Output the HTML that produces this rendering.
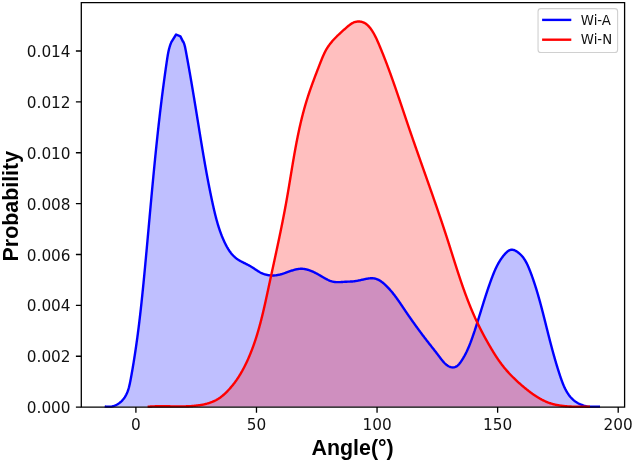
<!DOCTYPE html>
<html><head><meta charset="utf-8"><style>
html,body{margin:0;padding:0;background:#fff;}
body{width:633px;height:461px;overflow:hidden;}
svg{display:block;filter:blur(0.35px);}
</style></head><body>
<svg width="633" height="461" viewBox="0 0 633 461">
<rect width="633" height="461" fill="#fff"/>
<path d="M104.70,406.34 L105.45,406.50 L106.20,406.60 L106.94,406.60 L107.67,406.60 L108.40,406.60 L109.12,406.60 L109.84,406.60 L110.55,406.60 L111.25,406.58 L111.95,406.44 L112.64,406.28 L113.31,406.10 L113.98,405.88 L114.64,405.64 L115.29,405.38 L115.93,405.09 L116.55,404.78 L117.17,404.44 L117.77,404.09 L118.36,403.71 L118.94,403.31 L119.50,402.90 L120.05,402.47 L120.58,402.02 L121.10,401.56 L121.61,401.08 L122.10,400.58 L122.57,400.08 L123.02,399.56 L123.46,399.03 L123.88,398.49 L124.28,397.93 L124.67,397.37 L125.03,396.80 L125.39,396.22 L125.72,395.64 L126.04,395.04 L126.35,394.44 L126.64,393.82 L126.92,393.21 L127.19,392.58 L127.45,391.95 L127.69,391.31 L127.92,390.66 L128.14,390.01 L128.35,389.36 L128.56,388.69 L128.75,388.03 L128.94,387.36 L129.11,386.68 L129.28,386.01 L129.45,385.32 L129.61,384.64 L129.76,383.95 L129.91,383.26 L130.05,382.57 L130.19,381.88 L130.32,381.18 L130.46,380.49 L130.59,379.79 L130.72,379.10 L130.85,378.40 L130.98,377.70 L131.11,377.00 L131.23,376.31 L131.36,375.61 L131.49,374.91 L131.61,374.22 L131.74,373.52 L131.86,372.82 L131.98,372.13 L132.11,371.43 L132.23,370.73 L132.35,370.04 L132.47,369.34 L132.59,368.65 L132.71,367.95 L132.83,367.25 L132.94,366.56 L133.06,365.86 L133.18,365.16 L133.29,364.47 L133.41,363.77 L133.52,363.08 L133.64,362.38 L133.75,361.68 L133.86,360.99 L133.97,360.29 L134.08,359.60 L134.20,358.90 L134.31,358.20 L134.41,357.51 L134.52,356.81 L134.63,356.12 L134.74,355.42 L134.85,354.72 L134.95,354.03 L135.06,353.33 L135.16,352.64 L135.27,351.94 L135.37,351.25 L135.48,350.55 L135.58,349.85 L135.68,349.16 L135.79,348.46 L135.89,347.77 L135.99,347.07 L136.09,346.38 L136.19,345.68 L136.29,344.99 L136.39,344.29 L136.48,343.60 L136.58,342.90 L136.68,342.20 L136.78,341.51 L136.87,340.81 L136.97,340.12 L137.06,339.42 L137.16,338.73 L137.25,338.03 L137.35,337.34 L137.44,336.64 L137.53,335.95 L137.62,335.25 L137.72,334.56 L137.81,333.86 L137.90,333.17 L137.99,332.47 L138.08,331.78 L138.17,331.08 L138.26,330.39 L138.35,329.69 L138.44,329.00 L138.52,328.30 L138.61,327.60 L138.70,326.91 L138.78,326.21 L138.87,325.52 L138.96,324.82 L139.04,324.13 L139.13,323.43 L139.21,322.74 L139.29,322.04 L139.38,321.35 L139.46,320.65 L139.54,319.96 L139.63,319.26 L139.71,318.57 L139.79,317.87 L139.87,317.18 L139.95,316.48 L140.03,315.79 L140.12,315.09 L140.20,314.40 L140.27,313.70 L140.35,313.01 L140.43,312.31 L140.51,311.62 L140.59,310.92 L140.67,310.23 L140.75,309.53 L140.82,308.84 L140.90,308.14 L140.98,307.45 L141.05,306.75 L141.13,306.06 L141.21,305.36 L141.28,304.67 L141.36,303.97 L141.43,303.28 L141.51,302.58 L141.58,301.89 L141.65,301.19 L141.73,300.49 L141.80,299.80 L141.87,299.10 L141.95,298.41 L142.02,297.71 L142.09,297.02 L142.17,296.32 L142.24,295.63 L142.31,294.93 L142.38,294.24 L142.45,293.54 L142.52,292.85 L142.59,292.15 L142.66,291.46 L142.74,290.76 L142.81,290.06 L142.88,289.37 L142.95,288.67 L143.02,287.98 L143.08,287.28 L143.15,286.59 L143.22,285.89 L143.29,285.20 L143.36,284.50 L143.43,283.80 L143.50,283.11 L143.57,282.41 L143.63,281.72 L143.70,281.02 L143.77,280.32 L143.84,279.63 L143.90,278.93 L143.97,278.24 L144.04,277.54 L144.11,276.85 L144.17,276.15 L144.24,275.45 L144.31,274.76 L144.37,274.06 L144.44,273.37 L144.51,272.67 L144.57,271.97 L144.64,271.28 L144.70,270.58 L144.77,269.88 L144.84,269.19 L144.90,268.49 L144.97,267.79 L145.03,267.10 L145.10,266.40 L145.16,265.71 L145.23,265.01 L145.29,264.31 L145.36,263.62 L145.42,262.92 L145.49,262.22 L145.55,261.53 L145.62,260.83 L145.68,260.13 L145.75,259.44 L145.81,258.74 L145.88,258.04 L145.94,257.35 L146.01,256.65 L146.07,255.95 L146.14,255.25 L146.20,254.56 L146.26,253.86 L146.33,253.16 L146.39,252.47 L146.46,251.77 L146.52,251.07 L146.58,250.37 L146.65,249.68 L146.71,248.98 L146.78,248.28 L146.84,247.59 L146.90,246.89 L146.97,246.19 L147.03,245.49 L147.09,244.80 L147.16,244.10 L147.22,243.40 L147.28,242.70 L147.35,242.01 L147.41,241.31 L147.47,240.61 L147.54,239.91 L147.60,239.22 L147.66,238.52 L147.73,237.82 L147.79,237.12 L147.85,236.43 L147.92,235.73 L147.98,235.03 L148.04,234.33 L148.11,233.64 L148.17,232.94 L148.23,232.24 L148.30,231.54 L148.36,230.85 L148.42,230.15 L148.49,229.45 L148.55,228.75 L148.61,228.05 L148.68,227.36 L148.74,226.66 L148.80,225.96 L148.86,225.26 L148.93,224.56 L148.99,223.87 L149.05,223.17 L149.12,222.47 L149.18,221.77 L149.24,221.08 L149.31,220.38 L149.37,219.68 L149.43,218.98 L149.50,218.28 L149.56,217.59 L149.62,216.89 L149.68,216.19 L149.75,215.49 L149.81,214.79 L149.87,214.09 L149.94,213.40 L150.00,212.70 L150.06,212.00 L150.13,211.30 L150.19,210.60 L150.25,209.91 L150.32,209.21 L150.38,208.51 L150.45,207.81 L150.51,207.11 L150.57,206.42 L150.64,205.72 L150.70,205.02 L150.76,204.32 L150.83,203.62 L150.89,202.92 L150.95,202.23 L151.02,201.53 L151.08,200.83 L151.15,200.13 L151.21,199.43 L151.27,198.73 L151.34,198.04 L151.40,197.34 L151.47,196.64 L151.53,195.94 L151.60,195.24 L151.66,194.55 L151.73,193.85 L151.79,193.15 L151.85,192.45 L151.92,191.75 L151.98,191.05 L152.05,190.36 L152.11,189.66 L152.18,188.96 L152.24,188.26 L152.31,187.56 L152.37,186.86 L152.44,186.17 L152.51,185.47 L152.57,184.77 L152.64,184.07 L152.70,183.37 L152.77,182.67 L152.83,181.98 L152.90,181.28 L152.97,180.58 L153.03,179.88 L153.10,179.18 L153.16,178.49 L153.23,177.79 L153.30,177.09 L153.36,176.39 L153.43,175.69 L153.50,174.99 L153.56,174.30 L153.63,173.60 L153.70,172.90 L153.77,172.20 L153.83,171.50 L153.90,170.81 L153.97,170.11 L154.04,169.41 L154.10,168.71 L154.17,168.01 L154.24,167.31 L154.31,166.62 L154.38,165.92 L154.44,165.22 L154.51,164.52 L154.58,163.82 L154.65,163.13 L154.72,162.43 L154.79,161.73 L154.86,161.03 L154.93,160.33 L155.00,159.64 L155.06,158.94 L155.13,158.24 L155.20,157.54 L155.27,156.84 L155.34,156.15 L155.41,155.45 L155.48,154.75 L155.56,154.05 L155.63,153.36 L155.70,152.66 L155.77,151.96 L155.84,151.26 L155.91,150.56 L155.98,149.87 L156.05,149.17 L156.12,148.47 L156.20,147.77 L156.27,147.08 L156.34,146.38 L156.41,145.68 L156.49,144.98 L156.56,144.29 L156.63,143.59 L156.70,142.89 L156.78,142.19 L156.85,141.50 L156.92,140.80 L157.00,140.10 L157.07,139.40 L157.15,138.71 L157.22,138.01 L157.29,137.31 L157.37,136.61 L157.44,135.92 L157.52,135.22 L157.59,134.52 L157.67,133.82 L157.75,133.13 L157.82,132.43 L157.90,131.73 L157.97,131.04 L158.05,130.34 L158.13,129.64 L158.20,128.94 L158.28,128.25 L158.36,127.55 L158.43,126.85 L158.51,126.16 L158.59,125.46 L158.67,124.76 L158.74,124.07 L158.82,123.37 L158.90,122.67 L158.98,121.97 L159.06,121.28 L159.14,120.58 L159.22,119.88 L159.30,119.19 L159.38,118.49 L159.46,117.79 L159.54,117.10 L159.62,116.40 L159.70,115.71 L159.78,115.01 L159.86,114.31 L159.94,113.62 L160.02,112.92 L160.10,112.22 L160.19,111.53 L160.27,110.83 L160.35,110.13 L160.43,109.44 L160.52,108.74 L160.60,108.05 L160.68,107.35 L160.77,106.65 L160.85,105.96 L160.94,105.26 L161.02,104.57 L161.10,103.87 L161.19,103.17 L161.28,102.48 L161.36,101.78 L161.45,101.09 L161.53,100.39 L161.62,99.70 L161.70,99.00 L161.79,98.30 L161.88,97.61 L161.97,96.91 L162.05,96.22 L162.14,95.52 L162.23,94.83 L162.32,94.13 L162.41,93.44 L162.49,92.74 L162.58,92.05 L162.67,91.35 L162.76,90.66 L162.85,89.96 L162.94,89.27 L163.03,88.57 L163.12,87.88 L163.21,87.18 L163.31,86.49 L163.40,85.79 L163.49,85.10 L163.58,84.40 L163.67,83.71 L163.77,83.01 L163.86,82.32 L163.95,81.62 L164.05,80.93 L164.14,80.23 L164.23,79.54 L164.33,78.85 L164.42,78.15 L164.52,77.46 L164.61,76.76 L164.71,76.07 L164.81,75.37 L164.90,74.68 L165.00,73.99 L165.10,73.29 L165.19,72.60 L165.29,71.90 L165.39,71.21 L165.49,70.52 L165.59,69.82 L165.68,69.13 L165.78,68.44 L165.88,67.74 L165.98,67.05 L166.08,66.36 L166.18,65.66 L166.28,64.97 L166.39,64.28 L166.49,63.58 L166.59,62.89 L166.69,62.20 L166.79,61.50 L166.90,60.81 L167.00,60.12 L167.10,59.42 L167.21,58.73 L167.31,58.04 L167.42,57.35 L167.53,56.65 L167.64,55.96 L167.76,55.27 L167.88,54.58 L168.00,53.89 L168.13,53.20 L168.26,52.51 L168.41,51.82 L168.55,51.13 L168.71,50.44 L168.87,49.75 L169.04,49.07 L169.22,48.38 L169.41,47.70 L169.60,47.01 L169.81,46.33 L170.03,45.65 L170.26,44.96 L170.50,44.28 L170.76,43.60 L171.03,42.92 L171.20,42.30 L176.10,34.50 L180.40,36.40 L183.00,41.60 L183.22,41.52 L183.51,42.15 L183.78,42.80 L184.02,43.45 L184.25,44.12 L184.46,44.80 L184.65,45.48 L184.83,46.17 L185.00,46.86 L185.15,47.56 L185.30,48.27 L185.44,48.98 L185.58,49.69 L185.71,50.39 L185.85,51.10 L185.98,51.81 L186.11,52.52 L186.25,53.23 L186.38,53.94 L186.51,54.64 L186.64,55.35 L186.77,56.05 L186.90,56.76 L187.03,57.46 L187.16,58.17 L187.29,58.87 L187.42,59.57 L187.54,60.27 L187.67,60.98 L187.80,61.68 L187.92,62.38 L188.05,63.08 L188.18,63.78 L188.30,64.48 L188.43,65.17 L188.55,65.87 L188.68,66.57 L188.80,67.27 L188.93,67.97 L189.05,68.66 L189.17,69.36 L189.30,70.05 L189.42,70.75 L189.54,71.44 L189.66,72.14 L189.78,72.83 L189.91,73.53 L190.03,74.22 L190.15,74.91 L190.27,75.61 L190.39,76.30 L190.51,76.99 L190.63,77.68 L190.75,78.38 L190.87,79.07 L190.98,79.76 L191.10,80.45 L191.22,81.14 L191.34,81.83 L191.46,82.52 L191.57,83.21 L191.69,83.90 L191.81,84.59 L191.92,85.28 L192.04,85.97 L192.16,86.65 L192.27,87.34 L192.39,88.03 L192.51,88.72 L192.62,89.41 L192.74,90.09 L192.85,90.78 L192.97,91.47 L193.08,92.16 L193.20,92.84 L193.31,93.53 L193.42,94.22 L193.54,94.90 L193.65,95.59 L193.77,96.28 L193.88,96.96 L193.99,97.65 L194.11,98.33 L194.22,99.02 L194.33,99.71 L194.45,100.39 L194.56,101.08 L194.67,101.76 L194.78,102.45 L194.90,103.14 L195.01,103.82 L195.12,104.51 L195.23,105.19 L195.35,105.88 L195.46,106.56 L195.57,107.25 L195.68,107.94 L195.79,108.62 L195.91,109.31 L196.02,109.99 L196.13,110.68 L196.24,111.36 L196.35,112.05 L196.46,112.74 L196.57,113.42 L196.69,114.11 L196.80,114.80 L196.91,115.48 L197.02,116.17 L197.13,116.86 L197.24,117.54 L197.35,118.23 L197.47,118.92 L197.58,119.61 L197.69,120.29 L197.80,120.98 L197.91,121.67 L198.02,122.36 L198.13,123.04 L198.25,123.73 L198.36,124.42 L198.47,125.11 L198.58,125.80 L198.69,126.49 L198.80,127.18 L198.91,127.87 L199.03,128.56 L199.14,129.25 L199.25,129.94 L199.36,130.63 L199.47,131.32 L199.59,132.01 L199.70,132.70 L199.81,133.39 L199.92,134.09 L200.04,134.78 L200.15,135.47 L200.26,136.16 L200.37,136.85 L200.49,137.55 L200.60,138.24 L200.71,138.93 L200.83,139.62 L200.94,140.32 L201.06,141.01 L201.17,141.70 L201.28,142.40 L201.40,143.09 L201.51,143.78 L201.63,144.48 L201.74,145.17 L201.86,145.86 L201.97,146.56 L202.09,147.25 L202.20,147.94 L202.32,148.64 L202.43,149.33 L202.55,150.02 L202.67,150.72 L202.78,151.41 L202.90,152.11 L203.02,152.80 L203.14,153.49 L203.25,154.19 L203.37,154.88 L203.49,155.58 L203.61,156.27 L203.73,156.96 L203.85,157.66 L203.97,158.35 L204.09,159.05 L204.21,159.74 L204.33,160.43 L204.45,161.13 L204.57,161.82 L204.69,162.52 L204.81,163.21 L204.93,163.90 L205.05,164.60 L205.18,165.29 L205.30,165.98 L205.42,166.68 L205.55,167.37 L205.67,168.06 L205.79,168.76 L205.92,169.45 L206.04,170.14 L206.17,170.84 L206.29,171.53 L206.42,172.22 L206.55,172.91 L206.67,173.61 L206.80,174.30 L206.93,174.99 L207.06,175.68 L207.19,176.38 L207.31,177.07 L207.44,177.76 L207.57,178.45 L207.70,179.14 L207.83,179.83 L207.97,180.52 L208.10,181.21 L208.23,181.90 L208.36,182.60 L208.49,183.29 L208.63,183.98 L208.76,184.66 L208.90,185.35 L209.03,186.04 L209.17,186.73 L209.30,187.42 L209.44,188.11 L209.58,188.80 L209.71,189.49 L209.85,190.17 L209.99,190.86 L210.13,191.55 L210.27,192.24 L210.41,192.92 L210.55,193.61 L210.69,194.30 L210.83,194.98 L210.97,195.67 L211.12,196.35 L211.26,197.04 L211.40,197.72 L211.55,198.41 L211.69,199.09 L211.84,199.78 L211.98,200.46 L212.13,201.14 L212.28,201.82 L212.43,202.51 L212.57,203.19 L212.72,203.87 L212.87,204.55 L213.02,205.23 L213.18,205.91 L213.33,206.59 L213.48,207.27 L213.63,207.95 L213.79,208.63 L213.94,209.31 L214.10,209.99 L214.26,210.67 L214.42,211.35 L214.58,212.02 L214.74,212.70 L214.90,213.38 L215.07,214.05 L215.23,214.73 L215.40,215.40 L215.57,216.08 L215.74,216.75 L215.92,217.42 L216.09,218.10 L216.27,218.77 L216.45,219.44 L216.64,220.11 L216.82,220.78 L217.01,221.45 L217.20,222.12 L217.39,222.79 L217.58,223.46 L217.78,224.12 L217.98,224.79 L218.18,225.46 L218.39,226.12 L218.60,226.79 L218.81,227.45 L219.03,228.12 L219.25,228.78 L219.47,229.44 L219.69,230.10 L219.92,230.77 L220.15,231.43 L220.39,232.09 L220.63,232.75 L220.87,233.40 L221.12,234.06 L221.37,234.72 L221.63,235.37 L221.88,236.03 L222.15,236.68 L222.42,237.34 L222.69,237.99 L222.96,238.64 L223.24,239.30 L223.53,239.95 L223.82,240.60 L224.11,241.25 L224.41,241.89 L224.72,242.54 L225.03,243.19 L225.34,243.83 L225.66,244.47 L225.99,245.11 L226.32,245.74 L226.66,246.37 L227.00,246.99 L227.36,247.61 L227.71,248.23 L228.08,248.83 L228.45,249.44 L228.84,250.03 L229.22,250.62 L229.62,251.20 L230.03,251.77 L230.44,252.33 L230.86,252.89 L231.29,253.43 L231.73,253.97 L232.18,254.49 L232.64,255.00 L233.11,255.50 L233.59,255.99 L234.08,256.47 L234.58,256.93 L235.09,257.39 L235.61,257.82 L236.14,258.25 L236.68,258.66 L237.24,259.05 L237.80,259.44 L238.37,259.81 L238.96,260.17 L239.54,260.52 L240.14,260.86 L240.75,261.20 L241.35,261.53 L241.97,261.85 L242.59,262.17 L243.21,262.49 L243.84,262.80 L244.47,263.12 L245.10,263.43 L245.73,263.74 L246.37,264.06 L247.00,264.38 L247.63,264.70 L248.26,265.03 L248.89,265.37 L249.52,265.71 L250.14,266.06 L250.76,266.42 L251.38,266.79 L251.99,267.17 L252.60,267.56 L253.20,267.95 L253.80,268.35 L254.40,268.75 L255.00,269.15 L255.60,269.55 L256.19,269.95 L256.79,270.34 L257.39,270.73 L257.98,271.11 L258.59,271.48 L259.19,271.84 L259.80,272.19 L260.41,272.52 L261.02,272.83 L261.65,273.13 L262.27,273.41 L262.90,273.67 L263.54,273.91 L264.18,274.14 L264.82,274.34 L265.47,274.53 L266.12,274.70 L266.78,274.86 L267.44,274.99 L268.10,275.11 L268.77,275.21 L269.43,275.30 L270.11,275.37 L270.78,275.42 L271.46,275.45 L272.14,275.47 L272.82,275.48 L273.50,275.46 L274.19,275.43 L274.87,275.39 L275.56,275.32 L276.25,275.25 L276.94,275.15 L277.63,275.04 L278.32,274.92 L279.01,274.78 L279.70,274.63 L280.39,274.46 L281.09,274.27 L281.78,274.08 L282.47,273.87 L283.16,273.65 L283.85,273.43 L284.54,273.19 L285.23,272.96 L285.92,272.71 L286.61,272.46 L287.30,272.21 L287.99,271.96 L288.68,271.71 L289.37,271.46 L290.05,271.22 L290.74,270.98 L291.43,270.74 L292.11,270.51 L292.80,270.29 L293.48,270.08 L294.16,269.88 L294.85,269.70 L295.53,269.52 L296.21,269.36 L296.89,269.22 L297.57,269.09 L298.25,268.99 L298.92,268.90 L299.60,268.84 L300.27,268.79 L300.95,268.77 L301.62,268.78 L302.29,268.80 L302.96,268.85 L303.63,268.92 L304.30,269.01 L304.96,269.11 L305.63,269.24 L306.29,269.38 L306.95,269.54 L307.61,269.72 L308.27,269.91 L308.92,270.12 L309.58,270.35 L310.23,270.58 L310.88,270.83 L311.52,271.09 L312.17,271.36 L312.81,271.65 L313.45,271.94 L314.09,272.24 L314.73,272.55 L315.36,272.87 L315.99,273.20 L316.62,273.53 L317.25,273.87 L317.87,274.22 L318.49,274.57 L319.11,274.92 L319.73,275.27 L320.34,275.63 L320.95,275.99 L321.55,276.35 L322.16,276.71 L322.76,277.07 L323.37,277.42 L323.97,277.77 L324.58,278.11 L325.18,278.45 L325.79,278.78 L326.39,279.10 L327.01,279.42 L327.62,279.72 L328.24,280.01 L328.86,280.28 L329.48,280.54 L330.11,280.79 L330.75,281.02 L331.39,281.23 L332.04,281.42 L332.70,281.59 L333.37,281.74 L334.04,281.87 L334.72,281.97 L335.41,282.05 L336.11,282.11 L336.82,282.15 L337.53,282.17 L338.25,282.17 L338.98,282.16 L339.70,282.13 L340.43,282.10 L341.16,282.06 L341.90,282.01 L342.63,281.96 L343.36,281.91 L344.08,281.86 L344.81,281.81 L345.52,281.77 L346.24,281.73 L346.95,281.70 L347.65,281.67 L348.35,281.64 L349.05,281.62 L349.74,281.59 L350.43,281.55 L351.12,281.52 L351.80,281.48 L352.49,281.43 L353.17,281.37 L353.85,281.31 L354.53,281.23 L355.20,281.14 L355.88,281.04 L356.56,280.93 L357.23,280.81 L357.91,280.68 L358.59,280.54 L359.27,280.39 L359.95,280.25 L360.63,280.09 L361.32,279.94 L362.01,279.78 L362.70,279.62 L363.39,279.47 L364.09,279.31 L364.79,279.16 L365.50,279.01 L366.21,278.88 L366.93,278.75 L367.65,278.63 L368.36,278.52 L369.08,278.43 L369.80,278.36 L370.51,278.30 L371.22,278.27 L371.92,278.26 L372.62,278.28 L373.32,278.32 L374.00,278.40 L374.68,278.50 L375.34,278.65 L376.00,278.82 L376.64,279.03 L377.28,279.27 L377.90,279.55 L378.52,279.84 L379.13,280.17 L379.72,280.52 L380.31,280.89 L380.89,281.27 L381.46,281.68 L382.03,282.11 L382.58,282.54 L383.13,283.00 L383.67,283.46 L384.20,283.93 L384.73,284.40 L385.25,284.88 L385.77,285.37 L386.27,285.86 L386.78,286.36 L387.27,286.85 L387.76,287.36 L388.25,287.86 L388.73,288.38 L389.20,288.89 L389.67,289.41 L390.14,289.93 L390.60,290.46 L391.05,290.98 L391.50,291.52 L391.95,292.05 L392.39,292.59 L392.83,293.13 L393.27,293.67 L393.70,294.22 L394.13,294.77 L394.55,295.32 L394.97,295.88 L395.39,296.43 L395.80,296.99 L396.22,297.55 L396.63,298.12 L397.04,298.68 L397.44,299.25 L397.84,299.82 L398.25,300.39 L398.65,300.96 L399.04,301.53 L399.44,302.11 L399.84,302.69 L400.23,303.26 L400.62,303.84 L401.01,304.42 L401.41,305.00 L401.80,305.58 L402.19,306.16 L402.58,306.74 L402.97,307.33 L403.36,307.91 L403.75,308.49 L404.14,309.08 L404.54,309.66 L404.93,310.24 L405.32,310.83 L405.72,311.41 L406.11,311.99 L406.51,312.57 L406.91,313.16 L407.30,313.74 L407.70,314.32 L408.10,314.90 L408.50,315.48 L408.90,316.06 L409.31,316.64 L409.71,317.22 L410.11,317.80 L410.52,318.38 L410.92,318.96 L411.33,319.54 L411.73,320.12 L412.14,320.69 L412.55,321.27 L412.96,321.85 L413.37,322.42 L413.78,323.00 L414.19,323.57 L414.60,324.15 L415.01,324.72 L415.42,325.29 L415.83,325.86 L416.25,326.43 L416.66,327.01 L417.08,327.58 L417.49,328.14 L417.91,328.71 L418.32,329.28 L418.74,329.85 L419.15,330.41 L419.57,330.98 L419.99,331.54 L420.41,332.10 L420.82,332.67 L421.24,333.23 L421.66,333.79 L422.08,334.35 L422.50,334.91 L422.92,335.46 L423.34,336.02 L423.76,336.58 L424.18,337.13 L424.60,337.68 L425.02,338.24 L425.45,338.79 L425.87,339.34 L426.29,339.89 L426.71,340.43 L427.13,340.98 L427.56,341.53 L427.98,342.07 L428.40,342.61 L428.82,343.15 L429.25,343.69 L429.67,344.23 L430.09,344.77 L430.51,345.31 L430.94,345.84 L431.36,346.38 L431.78,346.91 L432.21,347.45 L432.63,347.98 L433.06,348.52 L433.48,349.06 L433.91,349.60 L434.34,350.14 L434.77,350.69 L435.20,351.24 L435.63,351.79 L436.06,352.34 L436.49,352.90 L436.93,353.47 L437.36,354.04 L437.80,354.61 L438.24,355.19 L438.68,355.78 L439.12,356.37 L439.57,356.96 L440.01,357.56 L440.47,358.16 L440.92,358.76 L441.38,359.36 L441.85,359.95 L442.32,360.53 L442.79,361.10 L443.28,361.66 L443.77,362.21 L444.26,362.74 L444.77,363.26 L445.29,363.75 L445.81,364.23 L446.34,364.68 L446.89,365.10 L447.45,365.50 L448.01,365.87 L448.59,366.21 L449.19,366.51 L449.79,366.78 L450.41,367.00 L451.03,367.19 L451.66,367.32 L452.29,367.41 L452.92,367.43 L453.55,367.40 L454.17,367.32 L454.77,367.17 L455.37,366.97 L455.94,366.72 L456.50,366.41 L457.04,366.04 L457.56,365.64 L458.06,365.19 L458.55,364.70 L459.02,364.18 L459.48,363.64 L459.92,363.07 L460.36,362.48 L460.78,361.88 L461.19,361.27 L461.60,360.66 L461.99,360.05 L462.38,359.43 L462.76,358.81 L463.14,358.20 L463.50,357.58 L463.86,356.95 L464.22,356.33 L464.56,355.70 L464.90,355.08 L465.24,354.45 L465.57,353.82 L465.89,353.19 L466.20,352.55 L466.52,351.92 L466.82,351.28 L467.12,350.65 L467.42,350.01 L467.71,349.37 L467.99,348.73 L468.27,348.09 L468.55,347.45 L468.82,346.80 L469.09,346.16 L469.35,345.51 L469.61,344.87 L469.87,344.22 L470.12,343.57 L470.38,342.92 L470.62,342.27 L470.87,341.62 L471.11,340.97 L471.35,340.31 L471.59,339.66 L471.82,339.00 L472.06,338.35 L472.29,337.69 L472.52,337.04 L472.75,336.38 L472.97,335.72 L473.20,335.06 L473.42,334.40 L473.65,333.74 L473.87,333.08 L474.09,332.42 L474.31,331.76 L474.54,331.10 L474.75,330.44 L474.97,329.78 L475.19,329.11 L475.41,328.45 L475.62,327.79 L475.84,327.12 L476.05,326.46 L476.27,325.79 L476.48,325.13 L476.70,324.46 L476.91,323.79 L477.12,323.13 L477.33,322.46 L477.54,321.80 L477.75,321.13 L477.96,320.46 L478.17,319.79 L478.38,319.13 L478.59,318.46 L478.80,317.79 L479.01,317.12 L479.22,316.45 L479.42,315.78 L479.63,315.11 L479.84,314.45 L480.05,313.78 L480.25,313.11 L480.46,312.44 L480.67,311.77 L480.88,311.10 L481.08,310.43 L481.29,309.76 L481.50,309.09 L481.71,308.42 L481.91,307.75 L482.12,307.08 L482.33,306.41 L482.54,305.74 L482.75,305.07 L482.95,304.41 L483.16,303.74 L483.37,303.07 L483.58,302.40 L483.79,301.73 L484.00,301.06 L484.21,300.39 L484.43,299.72 L484.64,299.06 L484.85,298.39 L485.06,297.72 L485.28,297.05 L485.49,296.39 L485.71,295.72 L485.92,295.05 L486.14,294.39 L486.36,293.72 L486.58,293.06 L486.80,292.39 L487.02,291.73 L487.24,291.06 L487.46,290.40 L487.68,289.73 L487.90,289.07 L488.13,288.41 L488.35,287.75 L488.58,287.08 L488.81,286.42 L489.04,285.76 L489.27,285.10 L489.50,284.44 L489.73,283.78 L489.96,283.12 L490.20,282.46 L490.44,281.81 L490.67,281.15 L490.91,280.49 L491.15,279.84 L491.39,279.18 L491.64,278.53 L491.88,277.87 L492.13,277.22 L492.37,276.57 L492.63,275.91 L492.88,275.26 L493.13,274.61 L493.39,273.97 L493.65,273.32 L493.92,272.67 L494.18,272.03 L494.45,271.39 L494.73,270.75 L495.01,270.11 L495.29,269.47 L495.58,268.83 L495.88,268.20 L496.18,267.57 L496.48,266.94 L496.79,266.31 L497.11,265.69 L497.43,265.07 L497.76,264.45 L498.09,263.83 L498.44,263.22 L498.79,262.61 L499.14,262.00 L499.51,261.40 L499.88,260.80 L500.26,260.20 L500.65,259.60 L501.05,259.01 L501.45,258.42 L501.87,257.84 L502.29,257.26 L502.72,256.68 L503.17,256.11 L503.62,255.54 L504.09,254.98 L504.56,254.42 L505.05,253.87 L505.54,253.32 L506.05,252.79 L506.57,252.28 L507.09,251.80 L507.63,251.36 L508.18,250.95 L508.75,250.59 L509.32,250.28 L509.90,250.03 L510.50,249.85 L511.10,249.74 L511.72,249.70 L512.34,249.74 L512.98,249.84 L513.61,250.00 L514.25,250.22 L514.88,250.48 L515.50,250.78 L516.12,251.12 L516.73,251.48 L517.32,251.87 L517.89,252.27 L518.45,252.69 L518.99,253.12 L519.52,253.56 L520.03,254.02 L520.53,254.50 L521.01,254.98 L521.48,255.48 L521.94,256.00 L522.38,256.52 L522.81,257.05 L523.23,257.60 L523.64,258.16 L524.04,258.72 L524.42,259.30 L524.80,259.88 L525.16,260.48 L525.51,261.08 L525.86,261.69 L526.20,262.30 L526.53,262.92 L526.85,263.55 L527.16,264.19 L527.47,264.83 L527.77,265.48 L528.06,266.13 L528.35,266.78 L528.63,267.44 L528.91,268.10 L529.18,268.76 L529.45,269.43 L529.71,270.09 L529.97,270.76 L530.23,271.43 L530.49,272.10 L530.74,272.77 L530.99,273.44 L531.24,274.11 L531.49,274.78 L531.73,275.45 L531.98,276.12 L532.22,276.79 L532.46,277.47 L532.69,278.14 L532.93,278.81 L533.16,279.48 L533.39,280.15 L533.62,280.82 L533.85,281.49 L534.07,282.17 L534.30,282.84 L534.52,283.51 L534.74,284.18 L534.96,284.85 L535.17,285.53 L535.39,286.20 L535.60,286.87 L535.81,287.54 L536.02,288.22 L536.23,288.89 L536.44,289.56 L536.65,290.23 L536.85,290.91 L537.05,291.58 L537.25,292.25 L537.45,292.93 L537.65,293.60 L537.85,294.27 L538.05,294.95 L538.24,295.62 L538.44,296.29 L538.63,296.97 L538.82,297.64 L539.01,298.31 L539.20,298.99 L539.39,299.66 L539.57,300.33 L539.76,301.01 L539.94,301.68 L540.13,302.36 L540.31,303.03 L540.49,303.70 L540.68,304.38 L540.86,305.05 L541.04,305.72 L541.21,306.40 L541.39,307.07 L541.57,307.75 L541.75,308.42 L541.92,309.09 L542.10,309.77 L542.27,310.44 L542.45,311.11 L542.62,311.79 L542.80,312.46 L542.97,313.13 L543.14,313.81 L543.31,314.48 L543.48,315.16 L543.66,315.83 L543.83,316.50 L544.00,317.18 L544.17,317.85 L544.34,318.52 L544.51,319.20 L544.68,319.87 L544.85,320.54 L545.01,321.22 L545.18,321.89 L545.35,322.56 L545.52,323.24 L545.69,323.91 L545.86,324.58 L546.03,325.25 L546.20,325.93 L546.37,326.60 L546.53,327.27 L546.70,327.95 L546.87,328.62 L547.04,329.29 L547.21,329.97 L547.38,330.64 L547.55,331.31 L547.72,331.99 L547.89,332.66 L548.06,333.33 L548.23,334.01 L548.40,334.68 L548.57,335.35 L548.74,336.03 L548.91,336.70 L549.08,337.37 L549.26,338.05 L549.43,338.72 L549.60,339.39 L549.78,340.07 L549.95,340.74 L550.12,341.42 L550.30,342.09 L550.47,342.76 L550.65,343.44 L550.83,344.11 L551.00,344.79 L551.18,345.46 L551.36,346.14 L551.54,346.81 L551.72,347.49 L551.90,348.16 L552.08,348.84 L552.26,349.51 L552.44,350.19 L552.63,350.86 L552.81,351.54 L553.00,352.22 L553.18,352.89 L553.37,353.57 L553.56,354.24 L553.74,354.92 L553.93,355.60 L554.12,356.28 L554.32,356.95 L554.51,357.63 L554.70,358.31 L554.89,358.99 L555.09,359.66 L555.29,360.34 L555.48,361.02 L555.68,361.70 L555.88,362.38 L556.08,363.06 L556.28,363.74 L556.49,364.42 L556.69,365.10 L556.90,365.78 L557.10,366.46 L557.31,367.14 L557.52,367.82 L557.73,368.50 L557.94,369.18 L558.16,369.86 L558.37,370.54 L558.59,371.23 L558.81,371.91 L559.03,372.59 L559.25,373.27 L559.47,373.96 L559.69,374.64 L559.92,375.32 L560.14,376.01 L560.37,376.69 L560.60,377.38 L560.84,378.06 L561.07,378.74 L561.31,379.42 L561.55,380.10 L561.80,380.78 L562.05,381.45 L562.30,382.12 L562.56,382.79 L562.82,383.46 L563.09,384.12 L563.36,384.78 L563.63,385.44 L563.92,386.09 L564.20,386.73 L564.50,387.37 L564.80,388.01 L565.11,388.64 L565.42,389.27 L565.74,389.88 L566.07,390.50 L566.41,391.10 L566.75,391.70 L567.10,392.29 L567.46,392.88 L567.83,393.45 L568.21,394.02 L568.60,394.58 L568.99,395.13 L569.40,395.67 L569.82,396.20 L570.24,396.72 L570.68,397.24 L571.13,397.74 L571.59,398.23 L572.06,398.71 L572.54,399.18 L573.03,399.63 L573.54,400.08 L574.05,400.51 L574.58,400.93 L575.13,401.34 L575.68,401.74 L576.25,402.12 L576.83,402.49 L577.42,402.84 L578.03,403.19 L578.64,403.52 L579.27,403.83 L579.90,404.13 L580.55,404.42 L581.20,404.69 L581.86,404.95 L582.52,405.20 L583.20,405.43 L583.88,405.65 L584.56,405.85 L585.25,406.04 L585.95,406.21 L586.65,406.37 L587.35,406.51 L588.06,406.60 L588.77,406.60 L589.48,406.60 L590.19,406.60 L590.91,406.60 L591.62,406.60 L592.33,406.60 L593.04,406.60 L593.76,406.60 L594.46,406.60 L595.17,406.60 L595.87,406.60 L596.58,406.60 L597.27,406.60 L597.96,406.60 L598.65,406.60 L599.33,406.60 L600.00,406.49 L600.00,406.80 L104.70,406.80 Z" fill="#0000ff" fill-opacity="0.25" stroke="none"/>
<path d="M147.61,406.60 L148.30,406.60 L148.98,406.60 L149.67,406.58 L150.36,406.54 L151.05,406.49 L151.74,406.46 L152.43,406.42 L153.12,406.39 L153.81,406.36 L154.51,406.34 L155.20,406.32 L155.90,406.30 L156.60,406.28 L157.29,406.27 L157.99,406.26 L158.69,406.25 L159.39,406.24 L160.10,406.24 L160.80,406.24 L161.50,406.24 L162.21,406.24 L162.91,406.24 L163.61,406.25 L164.32,406.25 L165.03,406.26 L165.73,406.26 L166.44,406.27 L167.15,406.28 L167.85,406.29 L168.56,406.30 L169.27,406.31 L169.98,406.32 L170.69,406.33 L171.39,406.34 L172.10,406.35 L172.81,406.36 L173.52,406.37 L174.23,406.38 L174.94,406.39 L175.65,406.40 L176.36,406.41 L177.07,406.41 L177.78,406.42 L178.49,406.42 L179.19,406.42 L179.90,406.42 L180.61,406.42 L181.32,406.41 L182.02,406.41 L182.73,406.40 L183.44,406.39 L184.14,406.37 L184.85,406.36 L185.55,406.34 L186.26,406.32 L186.96,406.29 L187.67,406.27 L188.37,406.23 L189.07,406.20 L189.77,406.16 L190.47,406.12 L191.17,406.08 L191.87,406.03 L192.57,405.97 L193.26,405.92 L193.96,405.85 L194.65,405.79 L195.35,405.72 L196.04,405.64 L196.73,405.56 L197.42,405.47 L198.11,405.38 L198.80,405.29 L199.49,405.19 L200.17,405.08 L200.86,404.97 L201.54,404.85 L202.22,404.72 L202.90,404.59 L203.58,404.46 L204.25,404.31 L204.93,404.16 L205.60,404.00 L206.26,403.83 L206.93,403.66 L207.59,403.47 L208.25,403.28 L208.91,403.08 L209.56,402.87 L210.21,402.65 L210.86,402.42 L211.50,402.18 L212.14,401.94 L212.78,401.68 L213.41,401.41 L214.03,401.13 L214.66,400.83 L215.28,400.53 L215.89,400.22 L216.50,399.89 L217.10,399.55 L217.70,399.20 L218.29,398.84 L218.88,398.46 L219.46,398.07 L220.04,397.67 L220.61,397.25 L221.18,396.82 L221.73,396.38 L222.29,395.93 L222.84,395.47 L223.38,395.00 L223.92,394.53 L224.45,394.04 L224.97,393.55 L225.49,393.06 L226.01,392.56 L226.52,392.06 L227.02,391.55 L227.52,391.04 L228.01,390.53 L228.50,390.01 L228.99,389.49 L229.46,388.97 L229.94,388.44 L230.40,387.91 L230.87,387.37 L231.32,386.84 L231.78,386.30 L232.23,385.75 L232.67,385.20 L233.11,384.65 L233.54,384.10 L233.97,383.54 L234.40,382.99 L234.82,382.42 L235.23,381.86 L235.64,381.29 L236.05,380.72 L236.46,380.15 L236.85,379.57 L237.25,378.99 L237.64,378.41 L238.02,377.83 L238.41,377.24 L238.78,376.65 L239.16,376.06 L239.53,375.47 L239.89,374.87 L240.26,374.27 L240.62,373.67 L240.97,373.07 L241.32,372.47 L241.67,371.86 L242.01,371.25 L242.36,370.64 L242.69,370.03 L243.03,369.42 L243.36,368.80 L243.68,368.18 L244.01,367.56 L244.33,366.94 L244.65,366.32 L244.96,365.70 L245.27,365.07 L245.58,364.44 L245.88,363.82 L246.19,363.19 L246.49,362.56 L246.78,361.92 L247.08,361.29 L247.37,360.66 L247.66,360.02 L247.94,359.38 L248.23,358.75 L248.51,358.11 L248.79,357.47 L249.06,356.83 L249.33,356.19 L249.61,355.54 L249.87,354.90 L250.14,354.25 L250.40,353.61 L250.66,352.96 L250.92,352.32 L251.18,351.67 L251.43,351.02 L251.69,350.37 L251.94,349.72 L252.18,349.06 L252.43,348.41 L252.67,347.76 L252.91,347.10 L253.15,346.45 L253.39,345.79 L253.62,345.14 L253.86,344.48 L254.09,343.82 L254.32,343.16 L254.54,342.50 L254.77,341.84 L254.99,341.18 L255.21,340.52 L255.43,339.85 L255.65,339.19 L255.86,338.53 L256.08,337.86 L256.29,337.19 L256.50,336.53 L256.71,335.86 L256.91,335.19 L257.12,334.52 L257.32,333.86 L257.52,333.19 L257.72,332.52 L257.92,331.84 L258.12,331.17 L258.31,330.50 L258.51,329.83 L258.70,329.16 L258.89,328.48 L259.08,327.81 L259.27,327.13 L259.45,326.46 L259.64,325.78 L259.82,325.10 L260.01,324.43 L260.19,323.75 L260.37,323.07 L260.55,322.39 L260.72,321.72 L260.90,321.04 L261.08,320.36 L261.25,319.68 L261.42,319.00 L261.59,318.32 L261.76,317.64 L261.93,316.95 L262.10,316.27 L262.27,315.59 L262.44,314.91 L262.60,314.22 L262.77,313.54 L262.93,312.86 L263.09,312.17 L263.26,311.49 L263.42,310.81 L263.58,310.12 L263.74,309.44 L263.90,308.75 L264.05,308.07 L264.21,307.38 L264.37,306.69 L264.52,306.01 L264.68,305.32 L264.83,304.64 L264.99,303.95 L265.14,303.26 L265.30,302.58 L265.45,301.89 L265.60,301.20 L265.75,300.51 L265.90,299.83 L266.05,299.14 L266.20,298.45 L266.35,297.76 L266.50,297.08 L266.65,296.39 L266.80,295.70 L266.95,295.01 L267.10,294.32 L267.25,293.64 L267.40,292.95 L267.54,292.26 L267.69,291.57 L267.84,290.89 L267.99,290.20 L268.13,289.51 L268.28,288.82 L268.43,288.13 L268.58,287.45 L268.72,286.76 L268.87,286.07 L269.02,285.38 L269.17,284.70 L269.31,284.01 L269.46,283.32 L269.61,282.64 L269.76,281.95 L269.91,281.26 L270.05,280.58 L270.20,279.89 L270.35,279.20 L270.50,278.52 L270.65,277.83 L270.80,277.15 L270.94,276.46 L271.09,275.78 L271.24,275.09 L271.39,274.40 L271.54,273.72 L271.69,273.03 L271.84,272.35 L271.98,271.66 L272.13,270.98 L272.28,270.29 L272.43,269.61 L272.58,268.92 L272.73,268.24 L272.88,267.55 L273.02,266.87 L273.17,266.18 L273.32,265.50 L273.47,264.82 L273.62,264.13 L273.77,263.45 L273.91,262.76 L274.06,262.08 L274.21,261.39 L274.36,260.71 L274.51,260.03 L274.66,259.34 L274.80,258.66 L274.95,257.97 L275.10,257.29 L275.25,256.61 L275.39,255.92 L275.54,255.24 L275.69,254.55 L275.84,253.87 L275.98,253.19 L276.13,252.50 L276.28,251.82 L276.42,251.13 L276.57,250.45 L276.72,249.77 L276.86,249.08 L277.01,248.40 L277.16,247.72 L277.30,247.03 L277.45,246.35 L277.59,245.66 L277.74,244.98 L277.88,244.30 L278.03,243.61 L278.17,242.93 L278.32,242.24 L278.46,241.56 L278.61,240.88 L278.75,240.19 L278.89,239.51 L279.04,238.82 L279.18,238.14 L279.32,237.46 L279.47,236.77 L279.61,236.09 L279.75,235.40 L279.89,234.72 L280.03,234.04 L280.18,233.35 L280.32,232.67 L280.46,231.98 L280.60,231.30 L280.74,230.61 L280.88,229.93 L281.02,229.24 L281.16,228.56 L281.30,227.87 L281.44,227.19 L281.58,226.50 L281.71,225.82 L281.85,225.13 L281.99,224.45 L282.13,223.76 L282.26,223.08 L282.40,222.39 L282.54,221.71 L282.67,221.02 L282.81,220.34 L282.94,219.65 L283.08,218.96 L283.21,218.28 L283.35,217.59 L283.48,216.90 L283.61,216.22 L283.75,215.53 L283.88,214.84 L284.01,214.16 L284.14,213.47 L284.28,212.78 L284.41,212.10 L284.54,211.41 L284.67,210.72 L284.80,210.03 L284.93,209.35 L285.06,208.66 L285.18,207.97 L285.31,207.28 L285.44,206.59 L285.57,205.91 L285.69,205.22 L285.82,204.53 L285.94,203.84 L286.07,203.15 L286.19,202.46 L286.32,201.77 L286.44,201.08 L286.57,200.39 L286.69,199.70 L286.81,199.01 L286.93,198.32 L287.05,197.63 L287.17,196.94 L287.29,196.25 L287.41,195.56 L287.53,194.87 L287.65,194.18 L287.77,193.49 L287.89,192.80 L288.01,192.11 L288.13,191.41 L288.24,190.72 L288.36,190.03 L288.48,189.34 L288.59,188.65 L288.71,187.95 L288.83,187.26 L288.94,186.57 L289.06,185.88 L289.17,185.18 L289.29,184.49 L289.40,183.80 L289.52,183.11 L289.63,182.41 L289.75,181.72 L289.86,181.03 L289.98,180.34 L290.09,179.64 L290.20,178.95 L290.32,178.26 L290.43,177.56 L290.55,176.87 L290.66,176.18 L290.78,175.49 L290.89,174.79 L291.00,174.10 L291.12,173.41 L291.23,172.71 L291.35,172.02 L291.46,171.33 L291.58,170.63 L291.69,169.94 L291.81,169.25 L291.92,168.55 L292.04,167.86 L292.15,167.17 L292.27,166.48 L292.38,165.78 L292.50,165.09 L292.62,164.40 L292.73,163.70 L292.85,163.01 L292.97,162.32 L293.08,161.63 L293.20,160.93 L293.32,160.24 L293.44,159.55 L293.56,158.86 L293.68,158.17 L293.80,157.47 L293.92,156.78 L294.04,156.09 L294.16,155.40 L294.28,154.71 L294.40,154.02 L294.52,153.32 L294.65,152.63 L294.77,151.94 L294.89,151.25 L295.02,150.56 L295.14,149.87 L295.27,149.18 L295.40,148.49 L295.52,147.80 L295.65,147.11 L295.78,146.42 L295.91,145.73 L296.04,145.04 L296.17,144.35 L296.30,143.66 L296.43,142.97 L296.56,142.28 L296.69,141.60 L296.83,140.91 L296.96,140.22 L297.10,139.53 L297.23,138.84 L297.37,138.16 L297.51,137.47 L297.65,136.78 L297.78,136.10 L297.92,135.41 L298.07,134.72 L298.21,134.04 L298.35,133.35 L298.49,132.67 L298.64,131.98 L298.79,131.30 L298.93,130.61 L299.08,129.93 L299.23,129.24 L299.38,128.56 L299.53,127.87 L299.68,127.19 L299.83,126.51 L299.99,125.83 L300.14,125.14 L300.30,124.46 L300.46,123.78 L300.62,123.10 L300.77,122.42 L300.94,121.74 L301.10,121.06 L301.26,120.38 L301.43,119.70 L301.59,119.02 L301.76,118.34 L301.93,117.66 L302.10,116.98 L302.27,116.30 L302.44,115.63 L302.61,114.95 L302.79,114.27 L302.96,113.59 L303.14,112.92 L303.32,112.24 L303.50,111.57 L303.68,110.89 L303.86,110.22 L304.05,109.54 L304.23,108.87 L304.42,108.20 L304.61,107.52 L304.80,106.85 L304.99,106.18 L305.19,105.51 L305.38,104.84 L305.58,104.17 L305.77,103.50 L305.97,102.83 L306.18,102.16 L306.38,101.49 L306.58,100.82 L306.79,100.15 L307.00,99.49 L307.21,98.82 L307.42,98.15 L307.63,97.49 L307.84,96.82 L308.06,96.15 L308.28,95.49 L308.50,94.83 L308.72,94.16 L308.94,93.50 L309.16,92.83 L309.38,92.17 L309.61,91.51 L309.84,90.85 L310.06,90.19 L310.29,89.52 L310.52,88.86 L310.76,88.20 L310.99,87.54 L311.22,86.88 L311.46,86.22 L311.69,85.56 L311.93,84.90 L312.17,84.24 L312.41,83.58 L312.65,82.92 L312.89,82.27 L313.13,81.61 L313.38,80.95 L313.62,80.29 L313.87,79.63 L314.11,78.98 L314.36,78.32 L314.60,77.66 L314.85,77.00 L315.10,76.35 L315.35,75.69 L315.60,75.03 L315.85,74.38 L316.10,73.72 L316.35,73.06 L316.61,72.41 L316.86,71.75 L317.11,71.10 L317.36,70.44 L317.62,69.78 L317.87,69.13 L318.13,68.47 L318.38,67.81 L318.64,67.16 L318.89,66.50 L319.15,65.85 L319.40,65.19 L319.66,64.53 L319.92,63.88 L320.17,63.22 L320.43,62.56 L320.69,61.91 L320.95,61.25 L321.20,60.60 L321.46,59.94 L321.72,59.29 L321.99,58.63 L322.25,57.98 L322.52,57.33 L322.80,56.69 L323.07,56.04 L323.35,55.40 L323.64,54.76 L323.93,54.13 L324.23,53.49 L324.53,52.87 L324.84,52.24 L325.15,51.62 L325.47,51.01 L325.80,50.40 L326.14,49.79 L326.49,49.19 L326.84,48.60 L327.21,48.01 L327.58,47.43 L327.96,46.85 L328.35,46.28 L328.74,45.71 L329.15,45.15 L329.56,44.59 L329.97,44.04 L330.40,43.49 L330.83,42.95 L331.27,42.41 L331.71,41.87 L332.16,41.34 L332.62,40.82 L333.08,40.29 L333.55,39.77 L334.02,39.26 L334.50,38.74 L334.98,38.24 L335.47,37.73 L335.96,37.23 L336.45,36.73 L336.95,36.23 L337.46,35.74 L337.96,35.24 L338.47,34.75 L338.99,34.27 L339.50,33.78 L340.02,33.30 L340.54,32.82 L341.07,32.34 L341.59,31.86 L342.12,31.39 L342.65,30.91 L343.18,30.44 L343.71,29.97 L344.25,29.50 L344.78,29.03 L345.32,28.56 L345.85,28.09 L346.39,27.62 L346.93,27.15 L347.46,26.69 L348.00,26.24 L348.55,25.79 L349.10,25.35 L349.65,24.93 L350.21,24.52 L350.77,24.12 L351.34,23.75 L351.92,23.39 L352.51,23.06 L353.11,22.76 L353.72,22.48 L354.34,22.23 L354.98,22.02 L355.62,21.84 L356.28,21.69 L356.96,21.59 L357.65,21.52 L358.34,21.49 L359.04,21.50 L359.74,21.54 L360.44,21.63 L361.14,21.75 L361.83,21.90 L362.50,22.10 L363.16,22.33 L363.81,22.60 L364.43,22.90 L365.03,23.24 L365.62,23.60 L366.19,24.00 L366.74,24.43 L367.27,24.88 L367.79,25.35 L368.29,25.85 L368.78,26.36 L369.26,26.89 L369.72,27.44 L370.17,28.00 L370.60,28.58 L371.02,29.16 L371.44,29.75 L371.84,30.34 L372.23,30.94 L372.61,31.54 L372.98,32.15 L373.34,32.76 L373.70,33.37 L374.05,33.98 L374.39,34.60 L374.72,35.22 L375.04,35.84 L375.36,36.47 L375.67,37.10 L375.98,37.72 L376.28,38.35 L376.58,38.99 L376.87,39.62 L377.16,40.26 L377.45,40.89 L377.73,41.53 L378.01,42.17 L378.28,42.81 L378.56,43.45 L378.83,44.09 L379.10,44.73 L379.37,45.38 L379.64,46.02 L379.91,46.66 L380.18,47.31 L380.45,47.95 L380.71,48.60 L380.98,49.24 L381.24,49.89 L381.51,50.53 L381.77,51.18 L382.03,51.83 L382.29,52.47 L382.55,53.12 L382.81,53.77 L383.07,54.42 L383.33,55.07 L383.58,55.71 L383.84,56.36 L384.10,57.01 L384.35,57.66 L384.60,58.31 L384.86,58.97 L385.11,59.62 L385.36,60.27 L385.61,60.92 L385.86,61.57 L386.11,62.23 L386.36,62.88 L386.61,63.53 L386.86,64.19 L387.10,64.84 L387.35,65.49 L387.60,66.15 L387.84,66.80 L388.09,67.46 L388.33,68.11 L388.57,68.77 L388.82,69.43 L389.06,70.08 L389.30,70.74 L389.54,71.40 L389.78,72.05 L390.02,72.71 L390.26,73.37 L390.50,74.03 L390.74,74.68 L390.97,75.34 L391.21,76.00 L391.45,76.66 L391.68,77.32 L391.92,77.98 L392.16,78.64 L392.39,79.30 L392.62,79.96 L392.86,80.62 L393.09,81.28 L393.33,81.94 L393.56,82.60 L393.79,83.26 L394.02,83.92 L394.25,84.59 L394.49,85.25 L394.72,85.91 L394.95,86.57 L395.18,87.23 L395.41,87.90 L395.64,88.56 L395.87,89.22 L396.09,89.88 L396.32,90.55 L396.55,91.21 L396.78,91.87 L397.01,92.54 L397.23,93.20 L397.46,93.86 L397.69,94.53 L397.92,95.19 L398.14,95.85 L398.37,96.52 L398.59,97.18 L398.82,97.85 L399.05,98.51 L399.27,99.18 L399.50,99.84 L399.72,100.50 L399.95,101.17 L400.17,101.83 L400.40,102.50 L400.62,103.16 L400.85,103.83 L401.07,104.49 L401.30,105.16 L401.52,105.82 L401.74,106.49 L401.97,107.15 L402.19,107.82 L402.42,108.48 L402.64,109.15 L402.86,109.81 L403.09,110.48 L403.31,111.15 L403.54,111.81 L403.76,112.48 L403.98,113.14 L404.21,113.81 L404.43,114.47 L404.66,115.14 L404.88,115.80 L405.10,116.47 L405.33,117.13 L405.55,117.80 L405.78,118.46 L406.00,119.13 L406.23,119.79 L406.45,120.46 L406.68,121.12 L406.90,121.79 L407.13,122.45 L407.35,123.12 L407.58,123.78 L407.80,124.45 L408.03,125.11 L408.25,125.77 L408.48,126.44 L408.71,127.10 L408.93,127.77 L409.16,128.43 L409.39,129.09 L409.61,129.76 L409.84,130.42 L410.07,131.08 L410.30,131.75 L410.53,132.41 L410.75,133.07 L410.98,133.74 L411.21,134.40 L411.44,135.06 L411.67,135.73 L411.90,136.39 L412.13,137.05 L412.36,137.72 L412.58,138.38 L412.81,139.04 L413.04,139.70 L413.27,140.37 L413.50,141.03 L413.74,141.69 L413.97,142.35 L414.20,143.01 L414.43,143.68 L414.66,144.34 L414.89,145.00 L415.12,145.66 L415.35,146.32 L415.58,146.99 L415.81,147.65 L416.05,148.31 L416.28,148.97 L416.51,149.63 L416.74,150.29 L416.97,150.95 L417.20,151.62 L417.44,152.28 L417.67,152.94 L417.90,153.60 L418.13,154.26 L418.37,154.92 L418.60,155.58 L418.83,156.24 L419.06,156.90 L419.30,157.57 L419.53,158.23 L419.76,158.89 L420.00,159.55 L420.23,160.21 L420.46,160.87 L420.69,161.53 L420.93,162.19 L421.16,162.85 L421.39,163.51 L421.63,164.17 L421.86,164.83 L422.09,165.49 L422.33,166.16 L422.56,166.82 L422.79,167.48 L423.03,168.14 L423.26,168.80 L423.49,169.46 L423.73,170.12 L423.96,170.78 L424.19,171.44 L424.43,172.10 L424.66,172.76 L424.89,173.42 L425.13,174.08 L425.36,174.74 L425.59,175.40 L425.83,176.06 L426.06,176.72 L426.29,177.38 L426.53,178.04 L426.76,178.71 L426.99,179.37 L427.22,180.03 L427.46,180.69 L427.69,181.35 L427.92,182.01 L428.16,182.67 L428.39,183.33 L428.62,183.99 L428.85,184.65 L429.09,185.31 L429.32,185.97 L429.55,186.63 L429.78,187.29 L430.01,187.95 L430.25,188.62 L430.48,189.28 L430.71,189.94 L430.94,190.60 L431.17,191.26 L431.40,191.92 L431.64,192.58 L431.87,193.24 L432.10,193.90 L432.33,194.56 L432.56,195.23 L432.79,195.89 L433.02,196.55 L433.25,197.21 L433.48,197.87 L433.71,198.53 L433.94,199.19 L434.17,199.86 L434.40,200.52 L434.63,201.18 L434.86,201.84 L435.09,202.50 L435.32,203.17 L435.55,203.83 L435.78,204.49 L436.01,205.15 L436.23,205.81 L436.46,206.48 L436.69,207.14 L436.92,207.80 L437.15,208.46 L437.37,209.13 L437.60,209.79 L437.83,210.45 L438.05,211.11 L438.28,211.78 L438.51,212.44 L438.73,213.10 L438.96,213.77 L439.18,214.43 L439.41,215.09 L439.63,215.76 L439.86,216.42 L440.08,217.08 L440.31,217.75 L440.53,218.41 L440.76,219.07 L440.98,219.74 L441.20,220.40 L441.43,221.07 L441.65,221.73 L441.87,222.39 L442.10,223.06 L442.32,223.72 L442.54,224.39 L442.76,225.05 L442.98,225.72 L443.20,226.38 L443.43,227.05 L443.65,227.71 L443.87,228.38 L444.09,229.04 L444.31,229.71 L444.52,230.38 L444.74,231.04 L444.96,231.71 L445.18,232.37 L445.40,233.04 L445.62,233.71 L445.83,234.37 L446.05,235.04 L446.27,235.71 L446.48,236.37 L446.70,237.04 L446.92,237.71 L447.13,238.37 L447.35,239.04 L447.56,239.71 L447.78,240.38 L447.99,241.04 L448.20,241.71 L448.42,242.38 L448.63,243.05 L448.84,243.72 L449.06,244.39 L449.27,245.05 L449.48,245.72 L449.69,246.39 L449.90,247.06 L450.12,247.73 L450.33,248.40 L450.54,249.07 L450.75,249.74 L450.96,250.40 L451.17,251.07 L451.38,251.74 L451.60,252.41 L451.81,253.08 L452.02,253.75 L452.23,254.42 L452.44,255.09 L452.65,255.76 L452.86,256.43 L453.07,257.09 L453.28,257.76 L453.50,258.43 L453.71,259.10 L453.92,259.77 L454.13,260.44 L454.34,261.11 L454.56,261.78 L454.77,262.44 L454.98,263.11 L455.19,263.78 L455.41,264.45 L455.62,265.12 L455.83,265.78 L456.05,266.45 L456.26,267.12 L456.48,267.79 L456.69,268.46 L456.91,269.12 L457.12,269.79 L457.34,270.46 L457.56,271.12 L457.77,271.79 L457.99,272.46 L458.21,273.12 L458.43,273.79 L458.65,274.46 L458.87,275.12 L459.09,275.79 L459.31,276.45 L459.53,277.12 L459.75,277.78 L459.97,278.45 L460.20,279.11 L460.42,279.77 L460.64,280.44 L460.87,281.10 L461.09,281.77 L461.32,282.43 L461.55,283.09 L461.77,283.75 L462.00,284.42 L462.23,285.08 L462.46,285.74 L462.69,286.40 L462.92,287.06 L463.16,287.72 L463.39,288.38 L463.62,289.04 L463.86,289.70 L464.09,290.36 L464.33,291.02 L464.57,291.68 L464.81,292.34 L465.05,292.99 L465.29,293.65 L465.53,294.31 L465.77,294.96 L466.01,295.62 L466.26,296.28 L466.50,296.93 L466.75,297.59 L467.00,298.24 L467.25,298.90 L467.50,299.55 L467.75,300.20 L468.00,300.85 L468.25,301.51 L468.51,302.16 L468.77,302.81 L469.02,303.46 L469.28,304.11 L469.54,304.76 L469.80,305.41 L470.06,306.06 L470.33,306.71 L470.59,307.35 L470.86,308.00 L471.12,308.65 L471.39,309.29 L471.66,309.94 L471.93,310.58 L472.21,311.23 L472.48,311.87 L472.76,312.52 L473.03,313.16 L473.31,313.80 L473.59,314.44 L473.87,315.08 L474.16,315.72 L474.44,316.36 L474.73,317.00 L475.02,317.64 L475.30,318.28 L475.60,318.92 L475.89,319.55 L476.18,320.19 L476.48,320.82 L476.78,321.46 L477.08,322.09 L477.38,322.73 L477.68,323.36 L477.98,323.99 L478.29,324.62 L478.60,325.25 L478.91,325.88 L479.22,326.51 L479.53,327.14 L479.84,327.77 L480.16,328.39 L480.47,329.02 L480.79,329.64 L481.11,330.27 L481.43,330.89 L481.76,331.52 L482.08,332.14 L482.41,332.76 L482.73,333.38 L483.06,334.00 L483.39,334.62 L483.72,335.24 L484.05,335.86 L484.39,336.48 L484.72,337.10 L485.06,337.71 L485.39,338.33 L485.73,338.95 L486.07,339.56 L486.41,340.17 L486.75,340.79 L487.10,341.40 L487.44,342.01 L487.79,342.62 L488.13,343.23 L488.48,343.84 L488.83,344.45 L489.18,345.06 L489.53,345.66 L489.88,346.27 L490.23,346.88 L490.59,347.48 L490.94,348.08 L491.30,348.69 L491.66,349.29 L492.02,349.89 L492.38,350.49 L492.74,351.09 L493.10,351.68 L493.47,352.28 L493.84,352.87 L494.21,353.47 L494.58,354.06 L494.95,354.65 L495.33,355.24 L495.71,355.82 L496.09,356.41 L496.47,356.99 L496.86,357.58 L497.24,358.15 L497.63,358.73 L498.03,359.31 L498.42,359.88 L498.82,360.45 L499.22,361.02 L499.62,361.59 L500.03,362.16 L500.44,362.72 L500.85,363.28 L501.27,363.84 L501.68,364.40 L502.11,364.95 L502.53,365.50 L502.96,366.05 L503.39,366.60 L503.83,367.14 L504.27,367.68 L504.71,368.22 L505.16,368.76 L505.61,369.29 L506.06,369.82 L506.51,370.35 L506.97,370.87 L507.43,371.40 L507.90,371.92 L508.37,372.43 L508.84,372.95 L509.31,373.46 L509.79,373.97 L510.27,374.48 L510.75,374.99 L511.24,375.49 L511.73,376.00 L512.22,376.49 L512.71,376.99 L513.21,377.49 L513.71,377.98 L514.21,378.47 L514.71,378.96 L515.22,379.44 L515.73,379.93 L516.24,380.41 L516.75,380.89 L517.27,381.36 L517.79,381.84 L518.31,382.31 L518.83,382.78 L519.36,383.25 L519.88,383.72 L520.41,384.18 L520.94,384.65 L521.48,385.11 L522.01,385.57 L522.55,386.02 L523.09,386.48 L523.63,386.93 L524.17,387.38 L524.72,387.83 L525.26,388.28 L525.81,388.73 L526.36,389.17 L526.91,389.61 L527.47,390.05 L528.02,390.49 L528.58,390.92 L529.14,391.35 L529.70,391.78 L530.26,392.20 L530.83,392.62 L531.40,393.04 L531.97,393.46 L532.54,393.87 L533.11,394.27 L533.69,394.67 L534.27,395.07 L534.85,395.46 L535.43,395.85 L536.02,396.23 L536.61,396.61 L537.20,396.98 L537.79,397.35 L538.39,397.71 L538.99,398.06 L539.59,398.41 L540.20,398.76 L540.81,399.09 L541.42,399.42 L542.03,399.75 L542.65,400.06 L543.27,400.37 L543.89,400.68 L544.52,400.97 L545.15,401.26 L545.78,401.54 L546.42,401.81 L547.06,402.07 L547.70,402.33 L548.35,402.58 L549.00,402.81 L549.65,403.04 L550.31,403.26 L550.97,403.48 L551.64,403.68 L552.31,403.87 L552.98,404.06 L553.65,404.24 L554.33,404.41 L555.01,404.57 L555.69,404.72 L556.38,404.87 L557.06,405.01 L557.75,405.14 L558.45,405.27 L559.14,405.39 L559.84,405.50 L560.53,405.61 L561.23,405.71 L561.94,405.80 L562.64,405.89 L563.34,405.97 L564.05,406.05 L564.76,406.12 L565.46,406.19 L566.17,406.25 L566.88,406.31 L567.59,406.36 L568.30,406.41 L569.02,406.45 L569.73,406.49 L570.44,406.53 L571.15,406.56 L571.86,406.59 L572.58,406.60 L573.29,406.60 L574.00,406.60 L574.71,406.60 L575.42,406.60 L576.13,406.60 L576.84,406.60 L577.54,406.60 L578.25,406.60 L578.96,406.60 L579.66,406.60 L580.36,406.60 L581.06,406.60 L581.76,406.60 L582.46,406.60 L583.15,406.60 L583.85,406.60 L584.54,406.60 L585.23,406.60 L585.91,406.60 L586.59,406.60 L587.28,406.60 L587.95,406.60 L588.63,406.60 L589.30,406.60 L589.97,406.60 L589.97,406.80 L147.61,406.80 Z" fill="#ff0000" fill-opacity="0.25" stroke="none"/>
<path d="M104.70,406.34 L105.45,406.50 L106.20,406.60 L106.94,406.60 L107.67,406.60 L108.40,406.60 L109.12,406.60 L109.84,406.60 L110.55,406.60 L111.25,406.58 L111.95,406.44 L112.64,406.28 L113.31,406.10 L113.98,405.88 L114.64,405.64 L115.29,405.38 L115.93,405.09 L116.55,404.78 L117.17,404.44 L117.77,404.09 L118.36,403.71 L118.94,403.31 L119.50,402.90 L120.05,402.47 L120.58,402.02 L121.10,401.56 L121.61,401.08 L122.10,400.58 L122.57,400.08 L123.02,399.56 L123.46,399.03 L123.88,398.49 L124.28,397.93 L124.67,397.37 L125.03,396.80 L125.39,396.22 L125.72,395.64 L126.04,395.04 L126.35,394.44 L126.64,393.82 L126.92,393.21 L127.19,392.58 L127.45,391.95 L127.69,391.31 L127.92,390.66 L128.14,390.01 L128.35,389.36 L128.56,388.69 L128.75,388.03 L128.94,387.36 L129.11,386.68 L129.28,386.01 L129.45,385.32 L129.61,384.64 L129.76,383.95 L129.91,383.26 L130.05,382.57 L130.19,381.88 L130.32,381.18 L130.46,380.49 L130.59,379.79 L130.72,379.10 L130.85,378.40 L130.98,377.70 L131.11,377.00 L131.23,376.31 L131.36,375.61 L131.49,374.91 L131.61,374.22 L131.74,373.52 L131.86,372.82 L131.98,372.13 L132.11,371.43 L132.23,370.73 L132.35,370.04 L132.47,369.34 L132.59,368.65 L132.71,367.95 L132.83,367.25 L132.94,366.56 L133.06,365.86 L133.18,365.16 L133.29,364.47 L133.41,363.77 L133.52,363.08 L133.64,362.38 L133.75,361.68 L133.86,360.99 L133.97,360.29 L134.08,359.60 L134.20,358.90 L134.31,358.20 L134.41,357.51 L134.52,356.81 L134.63,356.12 L134.74,355.42 L134.85,354.72 L134.95,354.03 L135.06,353.33 L135.16,352.64 L135.27,351.94 L135.37,351.25 L135.48,350.55 L135.58,349.85 L135.68,349.16 L135.79,348.46 L135.89,347.77 L135.99,347.07 L136.09,346.38 L136.19,345.68 L136.29,344.99 L136.39,344.29 L136.48,343.60 L136.58,342.90 L136.68,342.20 L136.78,341.51 L136.87,340.81 L136.97,340.12 L137.06,339.42 L137.16,338.73 L137.25,338.03 L137.35,337.34 L137.44,336.64 L137.53,335.95 L137.62,335.25 L137.72,334.56 L137.81,333.86 L137.90,333.17 L137.99,332.47 L138.08,331.78 L138.17,331.08 L138.26,330.39 L138.35,329.69 L138.44,329.00 L138.52,328.30 L138.61,327.60 L138.70,326.91 L138.78,326.21 L138.87,325.52 L138.96,324.82 L139.04,324.13 L139.13,323.43 L139.21,322.74 L139.29,322.04 L139.38,321.35 L139.46,320.65 L139.54,319.96 L139.63,319.26 L139.71,318.57 L139.79,317.87 L139.87,317.18 L139.95,316.48 L140.03,315.79 L140.12,315.09 L140.20,314.40 L140.27,313.70 L140.35,313.01 L140.43,312.31 L140.51,311.62 L140.59,310.92 L140.67,310.23 L140.75,309.53 L140.82,308.84 L140.90,308.14 L140.98,307.45 L141.05,306.75 L141.13,306.06 L141.21,305.36 L141.28,304.67 L141.36,303.97 L141.43,303.28 L141.51,302.58 L141.58,301.89 L141.65,301.19 L141.73,300.49 L141.80,299.80 L141.87,299.10 L141.95,298.41 L142.02,297.71 L142.09,297.02 L142.17,296.32 L142.24,295.63 L142.31,294.93 L142.38,294.24 L142.45,293.54 L142.52,292.85 L142.59,292.15 L142.66,291.46 L142.74,290.76 L142.81,290.06 L142.88,289.37 L142.95,288.67 L143.02,287.98 L143.08,287.28 L143.15,286.59 L143.22,285.89 L143.29,285.20 L143.36,284.50 L143.43,283.80 L143.50,283.11 L143.57,282.41 L143.63,281.72 L143.70,281.02 L143.77,280.32 L143.84,279.63 L143.90,278.93 L143.97,278.24 L144.04,277.54 L144.11,276.85 L144.17,276.15 L144.24,275.45 L144.31,274.76 L144.37,274.06 L144.44,273.37 L144.51,272.67 L144.57,271.97 L144.64,271.28 L144.70,270.58 L144.77,269.88 L144.84,269.19 L144.90,268.49 L144.97,267.79 L145.03,267.10 L145.10,266.40 L145.16,265.71 L145.23,265.01 L145.29,264.31 L145.36,263.62 L145.42,262.92 L145.49,262.22 L145.55,261.53 L145.62,260.83 L145.68,260.13 L145.75,259.44 L145.81,258.74 L145.88,258.04 L145.94,257.35 L146.01,256.65 L146.07,255.95 L146.14,255.25 L146.20,254.56 L146.26,253.86 L146.33,253.16 L146.39,252.47 L146.46,251.77 L146.52,251.07 L146.58,250.37 L146.65,249.68 L146.71,248.98 L146.78,248.28 L146.84,247.59 L146.90,246.89 L146.97,246.19 L147.03,245.49 L147.09,244.80 L147.16,244.10 L147.22,243.40 L147.28,242.70 L147.35,242.01 L147.41,241.31 L147.47,240.61 L147.54,239.91 L147.60,239.22 L147.66,238.52 L147.73,237.82 L147.79,237.12 L147.85,236.43 L147.92,235.73 L147.98,235.03 L148.04,234.33 L148.11,233.64 L148.17,232.94 L148.23,232.24 L148.30,231.54 L148.36,230.85 L148.42,230.15 L148.49,229.45 L148.55,228.75 L148.61,228.05 L148.68,227.36 L148.74,226.66 L148.80,225.96 L148.86,225.26 L148.93,224.56 L148.99,223.87 L149.05,223.17 L149.12,222.47 L149.18,221.77 L149.24,221.08 L149.31,220.38 L149.37,219.68 L149.43,218.98 L149.50,218.28 L149.56,217.59 L149.62,216.89 L149.68,216.19 L149.75,215.49 L149.81,214.79 L149.87,214.09 L149.94,213.40 L150.00,212.70 L150.06,212.00 L150.13,211.30 L150.19,210.60 L150.25,209.91 L150.32,209.21 L150.38,208.51 L150.45,207.81 L150.51,207.11 L150.57,206.42 L150.64,205.72 L150.70,205.02 L150.76,204.32 L150.83,203.62 L150.89,202.92 L150.95,202.23 L151.02,201.53 L151.08,200.83 L151.15,200.13 L151.21,199.43 L151.27,198.73 L151.34,198.04 L151.40,197.34 L151.47,196.64 L151.53,195.94 L151.60,195.24 L151.66,194.55 L151.73,193.85 L151.79,193.15 L151.85,192.45 L151.92,191.75 L151.98,191.05 L152.05,190.36 L152.11,189.66 L152.18,188.96 L152.24,188.26 L152.31,187.56 L152.37,186.86 L152.44,186.17 L152.51,185.47 L152.57,184.77 L152.64,184.07 L152.70,183.37 L152.77,182.67 L152.83,181.98 L152.90,181.28 L152.97,180.58 L153.03,179.88 L153.10,179.18 L153.16,178.49 L153.23,177.79 L153.30,177.09 L153.36,176.39 L153.43,175.69 L153.50,174.99 L153.56,174.30 L153.63,173.60 L153.70,172.90 L153.77,172.20 L153.83,171.50 L153.90,170.81 L153.97,170.11 L154.04,169.41 L154.10,168.71 L154.17,168.01 L154.24,167.31 L154.31,166.62 L154.38,165.92 L154.44,165.22 L154.51,164.52 L154.58,163.82 L154.65,163.13 L154.72,162.43 L154.79,161.73 L154.86,161.03 L154.93,160.33 L155.00,159.64 L155.06,158.94 L155.13,158.24 L155.20,157.54 L155.27,156.84 L155.34,156.15 L155.41,155.45 L155.48,154.75 L155.56,154.05 L155.63,153.36 L155.70,152.66 L155.77,151.96 L155.84,151.26 L155.91,150.56 L155.98,149.87 L156.05,149.17 L156.12,148.47 L156.20,147.77 L156.27,147.08 L156.34,146.38 L156.41,145.68 L156.49,144.98 L156.56,144.29 L156.63,143.59 L156.70,142.89 L156.78,142.19 L156.85,141.50 L156.92,140.80 L157.00,140.10 L157.07,139.40 L157.15,138.71 L157.22,138.01 L157.29,137.31 L157.37,136.61 L157.44,135.92 L157.52,135.22 L157.59,134.52 L157.67,133.82 L157.75,133.13 L157.82,132.43 L157.90,131.73 L157.97,131.04 L158.05,130.34 L158.13,129.64 L158.20,128.94 L158.28,128.25 L158.36,127.55 L158.43,126.85 L158.51,126.16 L158.59,125.46 L158.67,124.76 L158.74,124.07 L158.82,123.37 L158.90,122.67 L158.98,121.97 L159.06,121.28 L159.14,120.58 L159.22,119.88 L159.30,119.19 L159.38,118.49 L159.46,117.79 L159.54,117.10 L159.62,116.40 L159.70,115.71 L159.78,115.01 L159.86,114.31 L159.94,113.62 L160.02,112.92 L160.10,112.22 L160.19,111.53 L160.27,110.83 L160.35,110.13 L160.43,109.44 L160.52,108.74 L160.60,108.05 L160.68,107.35 L160.77,106.65 L160.85,105.96 L160.94,105.26 L161.02,104.57 L161.10,103.87 L161.19,103.17 L161.28,102.48 L161.36,101.78 L161.45,101.09 L161.53,100.39 L161.62,99.70 L161.70,99.00 L161.79,98.30 L161.88,97.61 L161.97,96.91 L162.05,96.22 L162.14,95.52 L162.23,94.83 L162.32,94.13 L162.41,93.44 L162.49,92.74 L162.58,92.05 L162.67,91.35 L162.76,90.66 L162.85,89.96 L162.94,89.27 L163.03,88.57 L163.12,87.88 L163.21,87.18 L163.31,86.49 L163.40,85.79 L163.49,85.10 L163.58,84.40 L163.67,83.71 L163.77,83.01 L163.86,82.32 L163.95,81.62 L164.05,80.93 L164.14,80.23 L164.23,79.54 L164.33,78.85 L164.42,78.15 L164.52,77.46 L164.61,76.76 L164.71,76.07 L164.81,75.37 L164.90,74.68 L165.00,73.99 L165.10,73.29 L165.19,72.60 L165.29,71.90 L165.39,71.21 L165.49,70.52 L165.59,69.82 L165.68,69.13 L165.78,68.44 L165.88,67.74 L165.98,67.05 L166.08,66.36 L166.18,65.66 L166.28,64.97 L166.39,64.28 L166.49,63.58 L166.59,62.89 L166.69,62.20 L166.79,61.50 L166.90,60.81 L167.00,60.12 L167.10,59.42 L167.21,58.73 L167.31,58.04 L167.42,57.35 L167.53,56.65 L167.64,55.96 L167.76,55.27 L167.88,54.58 L168.00,53.89 L168.13,53.20 L168.26,52.51 L168.41,51.82 L168.55,51.13 L168.71,50.44 L168.87,49.75 L169.04,49.07 L169.22,48.38 L169.41,47.70 L169.60,47.01 L169.81,46.33 L170.03,45.65 L170.26,44.96 L170.50,44.28 L170.76,43.60 L171.03,42.92 L171.20,42.30 L176.10,34.50 L180.40,36.40 L183.00,41.60 L183.22,41.52 L183.51,42.15 L183.78,42.80 L184.02,43.45 L184.25,44.12 L184.46,44.80 L184.65,45.48 L184.83,46.17 L185.00,46.86 L185.15,47.56 L185.30,48.27 L185.44,48.98 L185.58,49.69 L185.71,50.39 L185.85,51.10 L185.98,51.81 L186.11,52.52 L186.25,53.23 L186.38,53.94 L186.51,54.64 L186.64,55.35 L186.77,56.05 L186.90,56.76 L187.03,57.46 L187.16,58.17 L187.29,58.87 L187.42,59.57 L187.54,60.27 L187.67,60.98 L187.80,61.68 L187.92,62.38 L188.05,63.08 L188.18,63.78 L188.30,64.48 L188.43,65.17 L188.55,65.87 L188.68,66.57 L188.80,67.27 L188.93,67.97 L189.05,68.66 L189.17,69.36 L189.30,70.05 L189.42,70.75 L189.54,71.44 L189.66,72.14 L189.78,72.83 L189.91,73.53 L190.03,74.22 L190.15,74.91 L190.27,75.61 L190.39,76.30 L190.51,76.99 L190.63,77.68 L190.75,78.38 L190.87,79.07 L190.98,79.76 L191.10,80.45 L191.22,81.14 L191.34,81.83 L191.46,82.52 L191.57,83.21 L191.69,83.90 L191.81,84.59 L191.92,85.28 L192.04,85.97 L192.16,86.65 L192.27,87.34 L192.39,88.03 L192.51,88.72 L192.62,89.41 L192.74,90.09 L192.85,90.78 L192.97,91.47 L193.08,92.16 L193.20,92.84 L193.31,93.53 L193.42,94.22 L193.54,94.90 L193.65,95.59 L193.77,96.28 L193.88,96.96 L193.99,97.65 L194.11,98.33 L194.22,99.02 L194.33,99.71 L194.45,100.39 L194.56,101.08 L194.67,101.76 L194.78,102.45 L194.90,103.14 L195.01,103.82 L195.12,104.51 L195.23,105.19 L195.35,105.88 L195.46,106.56 L195.57,107.25 L195.68,107.94 L195.79,108.62 L195.91,109.31 L196.02,109.99 L196.13,110.68 L196.24,111.36 L196.35,112.05 L196.46,112.74 L196.57,113.42 L196.69,114.11 L196.80,114.80 L196.91,115.48 L197.02,116.17 L197.13,116.86 L197.24,117.54 L197.35,118.23 L197.47,118.92 L197.58,119.61 L197.69,120.29 L197.80,120.98 L197.91,121.67 L198.02,122.36 L198.13,123.04 L198.25,123.73 L198.36,124.42 L198.47,125.11 L198.58,125.80 L198.69,126.49 L198.80,127.18 L198.91,127.87 L199.03,128.56 L199.14,129.25 L199.25,129.94 L199.36,130.63 L199.47,131.32 L199.59,132.01 L199.70,132.70 L199.81,133.39 L199.92,134.09 L200.04,134.78 L200.15,135.47 L200.26,136.16 L200.37,136.85 L200.49,137.55 L200.60,138.24 L200.71,138.93 L200.83,139.62 L200.94,140.32 L201.06,141.01 L201.17,141.70 L201.28,142.40 L201.40,143.09 L201.51,143.78 L201.63,144.48 L201.74,145.17 L201.86,145.86 L201.97,146.56 L202.09,147.25 L202.20,147.94 L202.32,148.64 L202.43,149.33 L202.55,150.02 L202.67,150.72 L202.78,151.41 L202.90,152.11 L203.02,152.80 L203.14,153.49 L203.25,154.19 L203.37,154.88 L203.49,155.58 L203.61,156.27 L203.73,156.96 L203.85,157.66 L203.97,158.35 L204.09,159.05 L204.21,159.74 L204.33,160.43 L204.45,161.13 L204.57,161.82 L204.69,162.52 L204.81,163.21 L204.93,163.90 L205.05,164.60 L205.18,165.29 L205.30,165.98 L205.42,166.68 L205.55,167.37 L205.67,168.06 L205.79,168.76 L205.92,169.45 L206.04,170.14 L206.17,170.84 L206.29,171.53 L206.42,172.22 L206.55,172.91 L206.67,173.61 L206.80,174.30 L206.93,174.99 L207.06,175.68 L207.19,176.38 L207.31,177.07 L207.44,177.76 L207.57,178.45 L207.70,179.14 L207.83,179.83 L207.97,180.52 L208.10,181.21 L208.23,181.90 L208.36,182.60 L208.49,183.29 L208.63,183.98 L208.76,184.66 L208.90,185.35 L209.03,186.04 L209.17,186.73 L209.30,187.42 L209.44,188.11 L209.58,188.80 L209.71,189.49 L209.85,190.17 L209.99,190.86 L210.13,191.55 L210.27,192.24 L210.41,192.92 L210.55,193.61 L210.69,194.30 L210.83,194.98 L210.97,195.67 L211.12,196.35 L211.26,197.04 L211.40,197.72 L211.55,198.41 L211.69,199.09 L211.84,199.78 L211.98,200.46 L212.13,201.14 L212.28,201.82 L212.43,202.51 L212.57,203.19 L212.72,203.87 L212.87,204.55 L213.02,205.23 L213.18,205.91 L213.33,206.59 L213.48,207.27 L213.63,207.95 L213.79,208.63 L213.94,209.31 L214.10,209.99 L214.26,210.67 L214.42,211.35 L214.58,212.02 L214.74,212.70 L214.90,213.38 L215.07,214.05 L215.23,214.73 L215.40,215.40 L215.57,216.08 L215.74,216.75 L215.92,217.42 L216.09,218.10 L216.27,218.77 L216.45,219.44 L216.64,220.11 L216.82,220.78 L217.01,221.45 L217.20,222.12 L217.39,222.79 L217.58,223.46 L217.78,224.12 L217.98,224.79 L218.18,225.46 L218.39,226.12 L218.60,226.79 L218.81,227.45 L219.03,228.12 L219.25,228.78 L219.47,229.44 L219.69,230.10 L219.92,230.77 L220.15,231.43 L220.39,232.09 L220.63,232.75 L220.87,233.40 L221.12,234.06 L221.37,234.72 L221.63,235.37 L221.88,236.03 L222.15,236.68 L222.42,237.34 L222.69,237.99 L222.96,238.64 L223.24,239.30 L223.53,239.95 L223.82,240.60 L224.11,241.25 L224.41,241.89 L224.72,242.54 L225.03,243.19 L225.34,243.83 L225.66,244.47 L225.99,245.11 L226.32,245.74 L226.66,246.37 L227.00,246.99 L227.36,247.61 L227.71,248.23 L228.08,248.83 L228.45,249.44 L228.84,250.03 L229.22,250.62 L229.62,251.20 L230.03,251.77 L230.44,252.33 L230.86,252.89 L231.29,253.43 L231.73,253.97 L232.18,254.49 L232.64,255.00 L233.11,255.50 L233.59,255.99 L234.08,256.47 L234.58,256.93 L235.09,257.39 L235.61,257.82 L236.14,258.25 L236.68,258.66 L237.24,259.05 L237.80,259.44 L238.37,259.81 L238.96,260.17 L239.54,260.52 L240.14,260.86 L240.75,261.20 L241.35,261.53 L241.97,261.85 L242.59,262.17 L243.21,262.49 L243.84,262.80 L244.47,263.12 L245.10,263.43 L245.73,263.74 L246.37,264.06 L247.00,264.38 L247.63,264.70 L248.26,265.03 L248.89,265.37 L249.52,265.71 L250.14,266.06 L250.76,266.42 L251.38,266.79 L251.99,267.17 L252.60,267.56 L253.20,267.95 L253.80,268.35 L254.40,268.75 L255.00,269.15 L255.60,269.55 L256.19,269.95 L256.79,270.34 L257.39,270.73 L257.98,271.11 L258.59,271.48 L259.19,271.84 L259.80,272.19 L260.41,272.52 L261.02,272.83 L261.65,273.13 L262.27,273.41 L262.90,273.67 L263.54,273.91 L264.18,274.14 L264.82,274.34 L265.47,274.53 L266.12,274.70 L266.78,274.86 L267.44,274.99 L268.10,275.11 L268.77,275.21 L269.43,275.30 L270.11,275.37 L270.78,275.42 L271.46,275.45 L272.14,275.47 L272.82,275.48 L273.50,275.46 L274.19,275.43 L274.87,275.39 L275.56,275.32 L276.25,275.25 L276.94,275.15 L277.63,275.04 L278.32,274.92 L279.01,274.78 L279.70,274.63 L280.39,274.46 L281.09,274.27 L281.78,274.08 L282.47,273.87 L283.16,273.65 L283.85,273.43 L284.54,273.19 L285.23,272.96 L285.92,272.71 L286.61,272.46 L287.30,272.21 L287.99,271.96 L288.68,271.71 L289.37,271.46 L290.05,271.22 L290.74,270.98 L291.43,270.74 L292.11,270.51 L292.80,270.29 L293.48,270.08 L294.16,269.88 L294.85,269.70 L295.53,269.52 L296.21,269.36 L296.89,269.22 L297.57,269.09 L298.25,268.99 L298.92,268.90 L299.60,268.84 L300.27,268.79 L300.95,268.77 L301.62,268.78 L302.29,268.80 L302.96,268.85 L303.63,268.92 L304.30,269.01 L304.96,269.11 L305.63,269.24 L306.29,269.38 L306.95,269.54 L307.61,269.72 L308.27,269.91 L308.92,270.12 L309.58,270.35 L310.23,270.58 L310.88,270.83 L311.52,271.09 L312.17,271.36 L312.81,271.65 L313.45,271.94 L314.09,272.24 L314.73,272.55 L315.36,272.87 L315.99,273.20 L316.62,273.53 L317.25,273.87 L317.87,274.22 L318.49,274.57 L319.11,274.92 L319.73,275.27 L320.34,275.63 L320.95,275.99 L321.55,276.35 L322.16,276.71 L322.76,277.07 L323.37,277.42 L323.97,277.77 L324.58,278.11 L325.18,278.45 L325.79,278.78 L326.39,279.10 L327.01,279.42 L327.62,279.72 L328.24,280.01 L328.86,280.28 L329.48,280.54 L330.11,280.79 L330.75,281.02 L331.39,281.23 L332.04,281.42 L332.70,281.59 L333.37,281.74 L334.04,281.87 L334.72,281.97 L335.41,282.05 L336.11,282.11 L336.82,282.15 L337.53,282.17 L338.25,282.17 L338.98,282.16 L339.70,282.13 L340.43,282.10 L341.16,282.06 L341.90,282.01 L342.63,281.96 L343.36,281.91 L344.08,281.86 L344.81,281.81 L345.52,281.77 L346.24,281.73 L346.95,281.70 L347.65,281.67 L348.35,281.64 L349.05,281.62 L349.74,281.59 L350.43,281.55 L351.12,281.52 L351.80,281.48 L352.49,281.43 L353.17,281.37 L353.85,281.31 L354.53,281.23 L355.20,281.14 L355.88,281.04 L356.56,280.93 L357.23,280.81 L357.91,280.68 L358.59,280.54 L359.27,280.39 L359.95,280.25 L360.63,280.09 L361.32,279.94 L362.01,279.78 L362.70,279.62 L363.39,279.47 L364.09,279.31 L364.79,279.16 L365.50,279.01 L366.21,278.88 L366.93,278.75 L367.65,278.63 L368.36,278.52 L369.08,278.43 L369.80,278.36 L370.51,278.30 L371.22,278.27 L371.92,278.26 L372.62,278.28 L373.32,278.32 L374.00,278.40 L374.68,278.50 L375.34,278.65 L376.00,278.82 L376.64,279.03 L377.28,279.27 L377.90,279.55 L378.52,279.84 L379.13,280.17 L379.72,280.52 L380.31,280.89 L380.89,281.27 L381.46,281.68 L382.03,282.11 L382.58,282.54 L383.13,283.00 L383.67,283.46 L384.20,283.93 L384.73,284.40 L385.25,284.88 L385.77,285.37 L386.27,285.86 L386.78,286.36 L387.27,286.85 L387.76,287.36 L388.25,287.86 L388.73,288.38 L389.20,288.89 L389.67,289.41 L390.14,289.93 L390.60,290.46 L391.05,290.98 L391.50,291.52 L391.95,292.05 L392.39,292.59 L392.83,293.13 L393.27,293.67 L393.70,294.22 L394.13,294.77 L394.55,295.32 L394.97,295.88 L395.39,296.43 L395.80,296.99 L396.22,297.55 L396.63,298.12 L397.04,298.68 L397.44,299.25 L397.84,299.82 L398.25,300.39 L398.65,300.96 L399.04,301.53 L399.44,302.11 L399.84,302.69 L400.23,303.26 L400.62,303.84 L401.01,304.42 L401.41,305.00 L401.80,305.58 L402.19,306.16 L402.58,306.74 L402.97,307.33 L403.36,307.91 L403.75,308.49 L404.14,309.08 L404.54,309.66 L404.93,310.24 L405.32,310.83 L405.72,311.41 L406.11,311.99 L406.51,312.57 L406.91,313.16 L407.30,313.74 L407.70,314.32 L408.10,314.90 L408.50,315.48 L408.90,316.06 L409.31,316.64 L409.71,317.22 L410.11,317.80 L410.52,318.38 L410.92,318.96 L411.33,319.54 L411.73,320.12 L412.14,320.69 L412.55,321.27 L412.96,321.85 L413.37,322.42 L413.78,323.00 L414.19,323.57 L414.60,324.15 L415.01,324.72 L415.42,325.29 L415.83,325.86 L416.25,326.43 L416.66,327.01 L417.08,327.58 L417.49,328.14 L417.91,328.71 L418.32,329.28 L418.74,329.85 L419.15,330.41 L419.57,330.98 L419.99,331.54 L420.41,332.10 L420.82,332.67 L421.24,333.23 L421.66,333.79 L422.08,334.35 L422.50,334.91 L422.92,335.46 L423.34,336.02 L423.76,336.58 L424.18,337.13 L424.60,337.68 L425.02,338.24 L425.45,338.79 L425.87,339.34 L426.29,339.89 L426.71,340.43 L427.13,340.98 L427.56,341.53 L427.98,342.07 L428.40,342.61 L428.82,343.15 L429.25,343.69 L429.67,344.23 L430.09,344.77 L430.51,345.31 L430.94,345.84 L431.36,346.38 L431.78,346.91 L432.21,347.45 L432.63,347.98 L433.06,348.52 L433.48,349.06 L433.91,349.60 L434.34,350.14 L434.77,350.69 L435.20,351.24 L435.63,351.79 L436.06,352.34 L436.49,352.90 L436.93,353.47 L437.36,354.04 L437.80,354.61 L438.24,355.19 L438.68,355.78 L439.12,356.37 L439.57,356.96 L440.01,357.56 L440.47,358.16 L440.92,358.76 L441.38,359.36 L441.85,359.95 L442.32,360.53 L442.79,361.10 L443.28,361.66 L443.77,362.21 L444.26,362.74 L444.77,363.26 L445.29,363.75 L445.81,364.23 L446.34,364.68 L446.89,365.10 L447.45,365.50 L448.01,365.87 L448.59,366.21 L449.19,366.51 L449.79,366.78 L450.41,367.00 L451.03,367.19 L451.66,367.32 L452.29,367.41 L452.92,367.43 L453.55,367.40 L454.17,367.32 L454.77,367.17 L455.37,366.97 L455.94,366.72 L456.50,366.41 L457.04,366.04 L457.56,365.64 L458.06,365.19 L458.55,364.70 L459.02,364.18 L459.48,363.64 L459.92,363.07 L460.36,362.48 L460.78,361.88 L461.19,361.27 L461.60,360.66 L461.99,360.05 L462.38,359.43 L462.76,358.81 L463.14,358.20 L463.50,357.58 L463.86,356.95 L464.22,356.33 L464.56,355.70 L464.90,355.08 L465.24,354.45 L465.57,353.82 L465.89,353.19 L466.20,352.55 L466.52,351.92 L466.82,351.28 L467.12,350.65 L467.42,350.01 L467.71,349.37 L467.99,348.73 L468.27,348.09 L468.55,347.45 L468.82,346.80 L469.09,346.16 L469.35,345.51 L469.61,344.87 L469.87,344.22 L470.12,343.57 L470.38,342.92 L470.62,342.27 L470.87,341.62 L471.11,340.97 L471.35,340.31 L471.59,339.66 L471.82,339.00 L472.06,338.35 L472.29,337.69 L472.52,337.04 L472.75,336.38 L472.97,335.72 L473.20,335.06 L473.42,334.40 L473.65,333.74 L473.87,333.08 L474.09,332.42 L474.31,331.76 L474.54,331.10 L474.75,330.44 L474.97,329.78 L475.19,329.11 L475.41,328.45 L475.62,327.79 L475.84,327.12 L476.05,326.46 L476.27,325.79 L476.48,325.13 L476.70,324.46 L476.91,323.79 L477.12,323.13 L477.33,322.46 L477.54,321.80 L477.75,321.13 L477.96,320.46 L478.17,319.79 L478.38,319.13 L478.59,318.46 L478.80,317.79 L479.01,317.12 L479.22,316.45 L479.42,315.78 L479.63,315.11 L479.84,314.45 L480.05,313.78 L480.25,313.11 L480.46,312.44 L480.67,311.77 L480.88,311.10 L481.08,310.43 L481.29,309.76 L481.50,309.09 L481.71,308.42 L481.91,307.75 L482.12,307.08 L482.33,306.41 L482.54,305.74 L482.75,305.07 L482.95,304.41 L483.16,303.74 L483.37,303.07 L483.58,302.40 L483.79,301.73 L484.00,301.06 L484.21,300.39 L484.43,299.72 L484.64,299.06 L484.85,298.39 L485.06,297.72 L485.28,297.05 L485.49,296.39 L485.71,295.72 L485.92,295.05 L486.14,294.39 L486.36,293.72 L486.58,293.06 L486.80,292.39 L487.02,291.73 L487.24,291.06 L487.46,290.40 L487.68,289.73 L487.90,289.07 L488.13,288.41 L488.35,287.75 L488.58,287.08 L488.81,286.42 L489.04,285.76 L489.27,285.10 L489.50,284.44 L489.73,283.78 L489.96,283.12 L490.20,282.46 L490.44,281.81 L490.67,281.15 L490.91,280.49 L491.15,279.84 L491.39,279.18 L491.64,278.53 L491.88,277.87 L492.13,277.22 L492.37,276.57 L492.63,275.91 L492.88,275.26 L493.13,274.61 L493.39,273.97 L493.65,273.32 L493.92,272.67 L494.18,272.03 L494.45,271.39 L494.73,270.75 L495.01,270.11 L495.29,269.47 L495.58,268.83 L495.88,268.20 L496.18,267.57 L496.48,266.94 L496.79,266.31 L497.11,265.69 L497.43,265.07 L497.76,264.45 L498.09,263.83 L498.44,263.22 L498.79,262.61 L499.14,262.00 L499.51,261.40 L499.88,260.80 L500.26,260.20 L500.65,259.60 L501.05,259.01 L501.45,258.42 L501.87,257.84 L502.29,257.26 L502.72,256.68 L503.17,256.11 L503.62,255.54 L504.09,254.98 L504.56,254.42 L505.05,253.87 L505.54,253.32 L506.05,252.79 L506.57,252.28 L507.09,251.80 L507.63,251.36 L508.18,250.95 L508.75,250.59 L509.32,250.28 L509.90,250.03 L510.50,249.85 L511.10,249.74 L511.72,249.70 L512.34,249.74 L512.98,249.84 L513.61,250.00 L514.25,250.22 L514.88,250.48 L515.50,250.78 L516.12,251.12 L516.73,251.48 L517.32,251.87 L517.89,252.27 L518.45,252.69 L518.99,253.12 L519.52,253.56 L520.03,254.02 L520.53,254.50 L521.01,254.98 L521.48,255.48 L521.94,256.00 L522.38,256.52 L522.81,257.05 L523.23,257.60 L523.64,258.16 L524.04,258.72 L524.42,259.30 L524.80,259.88 L525.16,260.48 L525.51,261.08 L525.86,261.69 L526.20,262.30 L526.53,262.92 L526.85,263.55 L527.16,264.19 L527.47,264.83 L527.77,265.48 L528.06,266.13 L528.35,266.78 L528.63,267.44 L528.91,268.10 L529.18,268.76 L529.45,269.43 L529.71,270.09 L529.97,270.76 L530.23,271.43 L530.49,272.10 L530.74,272.77 L530.99,273.44 L531.24,274.11 L531.49,274.78 L531.73,275.45 L531.98,276.12 L532.22,276.79 L532.46,277.47 L532.69,278.14 L532.93,278.81 L533.16,279.48 L533.39,280.15 L533.62,280.82 L533.85,281.49 L534.07,282.17 L534.30,282.84 L534.52,283.51 L534.74,284.18 L534.96,284.85 L535.17,285.53 L535.39,286.20 L535.60,286.87 L535.81,287.54 L536.02,288.22 L536.23,288.89 L536.44,289.56 L536.65,290.23 L536.85,290.91 L537.05,291.58 L537.25,292.25 L537.45,292.93 L537.65,293.60 L537.85,294.27 L538.05,294.95 L538.24,295.62 L538.44,296.29 L538.63,296.97 L538.82,297.64 L539.01,298.31 L539.20,298.99 L539.39,299.66 L539.57,300.33 L539.76,301.01 L539.94,301.68 L540.13,302.36 L540.31,303.03 L540.49,303.70 L540.68,304.38 L540.86,305.05 L541.04,305.72 L541.21,306.40 L541.39,307.07 L541.57,307.75 L541.75,308.42 L541.92,309.09 L542.10,309.77 L542.27,310.44 L542.45,311.11 L542.62,311.79 L542.80,312.46 L542.97,313.13 L543.14,313.81 L543.31,314.48 L543.48,315.16 L543.66,315.83 L543.83,316.50 L544.00,317.18 L544.17,317.85 L544.34,318.52 L544.51,319.20 L544.68,319.87 L544.85,320.54 L545.01,321.22 L545.18,321.89 L545.35,322.56 L545.52,323.24 L545.69,323.91 L545.86,324.58 L546.03,325.25 L546.20,325.93 L546.37,326.60 L546.53,327.27 L546.70,327.95 L546.87,328.62 L547.04,329.29 L547.21,329.97 L547.38,330.64 L547.55,331.31 L547.72,331.99 L547.89,332.66 L548.06,333.33 L548.23,334.01 L548.40,334.68 L548.57,335.35 L548.74,336.03 L548.91,336.70 L549.08,337.37 L549.26,338.05 L549.43,338.72 L549.60,339.39 L549.78,340.07 L549.95,340.74 L550.12,341.42 L550.30,342.09 L550.47,342.76 L550.65,343.44 L550.83,344.11 L551.00,344.79 L551.18,345.46 L551.36,346.14 L551.54,346.81 L551.72,347.49 L551.90,348.16 L552.08,348.84 L552.26,349.51 L552.44,350.19 L552.63,350.86 L552.81,351.54 L553.00,352.22 L553.18,352.89 L553.37,353.57 L553.56,354.24 L553.74,354.92 L553.93,355.60 L554.12,356.28 L554.32,356.95 L554.51,357.63 L554.70,358.31 L554.89,358.99 L555.09,359.66 L555.29,360.34 L555.48,361.02 L555.68,361.70 L555.88,362.38 L556.08,363.06 L556.28,363.74 L556.49,364.42 L556.69,365.10 L556.90,365.78 L557.10,366.46 L557.31,367.14 L557.52,367.82 L557.73,368.50 L557.94,369.18 L558.16,369.86 L558.37,370.54 L558.59,371.23 L558.81,371.91 L559.03,372.59 L559.25,373.27 L559.47,373.96 L559.69,374.64 L559.92,375.32 L560.14,376.01 L560.37,376.69 L560.60,377.38 L560.84,378.06 L561.07,378.74 L561.31,379.42 L561.55,380.10 L561.80,380.78 L562.05,381.45 L562.30,382.12 L562.56,382.79 L562.82,383.46 L563.09,384.12 L563.36,384.78 L563.63,385.44 L563.92,386.09 L564.20,386.73 L564.50,387.37 L564.80,388.01 L565.11,388.64 L565.42,389.27 L565.74,389.88 L566.07,390.50 L566.41,391.10 L566.75,391.70 L567.10,392.29 L567.46,392.88 L567.83,393.45 L568.21,394.02 L568.60,394.58 L568.99,395.13 L569.40,395.67 L569.82,396.20 L570.24,396.72 L570.68,397.24 L571.13,397.74 L571.59,398.23 L572.06,398.71 L572.54,399.18 L573.03,399.63 L573.54,400.08 L574.05,400.51 L574.58,400.93 L575.13,401.34 L575.68,401.74 L576.25,402.12 L576.83,402.49 L577.42,402.84 L578.03,403.19 L578.64,403.52 L579.27,403.83 L579.90,404.13 L580.55,404.42 L581.20,404.69 L581.86,404.95 L582.52,405.20 L583.20,405.43 L583.88,405.65 L584.56,405.85 L585.25,406.04 L585.95,406.21 L586.65,406.37 L587.35,406.51 L588.06,406.60 L588.77,406.60 L589.48,406.60 L590.19,406.60 L590.91,406.60 L591.62,406.60 L592.33,406.60 L593.04,406.60 L593.76,406.60 L594.46,406.60 L595.17,406.60 L595.87,406.60 L596.58,406.60 L597.27,406.60 L597.96,406.60 L598.65,406.60 L599.33,406.60 L600.00,406.49" fill="none" stroke="#0000ff" stroke-width="2.4" stroke-linejoin="round" stroke-linecap="butt"/>
<path d="M147.61,406.60 L148.30,406.60 L148.98,406.60 L149.67,406.58 L150.36,406.54 L151.05,406.49 L151.74,406.46 L152.43,406.42 L153.12,406.39 L153.81,406.36 L154.51,406.34 L155.20,406.32 L155.90,406.30 L156.60,406.28 L157.29,406.27 L157.99,406.26 L158.69,406.25 L159.39,406.24 L160.10,406.24 L160.80,406.24 L161.50,406.24 L162.21,406.24 L162.91,406.24 L163.61,406.25 L164.32,406.25 L165.03,406.26 L165.73,406.26 L166.44,406.27 L167.15,406.28 L167.85,406.29 L168.56,406.30 L169.27,406.31 L169.98,406.32 L170.69,406.33 L171.39,406.34 L172.10,406.35 L172.81,406.36 L173.52,406.37 L174.23,406.38 L174.94,406.39 L175.65,406.40 L176.36,406.41 L177.07,406.41 L177.78,406.42 L178.49,406.42 L179.19,406.42 L179.90,406.42 L180.61,406.42 L181.32,406.41 L182.02,406.41 L182.73,406.40 L183.44,406.39 L184.14,406.37 L184.85,406.36 L185.55,406.34 L186.26,406.32 L186.96,406.29 L187.67,406.27 L188.37,406.23 L189.07,406.20 L189.77,406.16 L190.47,406.12 L191.17,406.08 L191.87,406.03 L192.57,405.97 L193.26,405.92 L193.96,405.85 L194.65,405.79 L195.35,405.72 L196.04,405.64 L196.73,405.56 L197.42,405.47 L198.11,405.38 L198.80,405.29 L199.49,405.19 L200.17,405.08 L200.86,404.97 L201.54,404.85 L202.22,404.72 L202.90,404.59 L203.58,404.46 L204.25,404.31 L204.93,404.16 L205.60,404.00 L206.26,403.83 L206.93,403.66 L207.59,403.47 L208.25,403.28 L208.91,403.08 L209.56,402.87 L210.21,402.65 L210.86,402.42 L211.50,402.18 L212.14,401.94 L212.78,401.68 L213.41,401.41 L214.03,401.13 L214.66,400.83 L215.28,400.53 L215.89,400.22 L216.50,399.89 L217.10,399.55 L217.70,399.20 L218.29,398.84 L218.88,398.46 L219.46,398.07 L220.04,397.67 L220.61,397.25 L221.18,396.82 L221.73,396.38 L222.29,395.93 L222.84,395.47 L223.38,395.00 L223.92,394.53 L224.45,394.04 L224.97,393.55 L225.49,393.06 L226.01,392.56 L226.52,392.06 L227.02,391.55 L227.52,391.04 L228.01,390.53 L228.50,390.01 L228.99,389.49 L229.46,388.97 L229.94,388.44 L230.40,387.91 L230.87,387.37 L231.32,386.84 L231.78,386.30 L232.23,385.75 L232.67,385.20 L233.11,384.65 L233.54,384.10 L233.97,383.54 L234.40,382.99 L234.82,382.42 L235.23,381.86 L235.64,381.29 L236.05,380.72 L236.46,380.15 L236.85,379.57 L237.25,378.99 L237.64,378.41 L238.02,377.83 L238.41,377.24 L238.78,376.65 L239.16,376.06 L239.53,375.47 L239.89,374.87 L240.26,374.27 L240.62,373.67 L240.97,373.07 L241.32,372.47 L241.67,371.86 L242.01,371.25 L242.36,370.64 L242.69,370.03 L243.03,369.42 L243.36,368.80 L243.68,368.18 L244.01,367.56 L244.33,366.94 L244.65,366.32 L244.96,365.70 L245.27,365.07 L245.58,364.44 L245.88,363.82 L246.19,363.19 L246.49,362.56 L246.78,361.92 L247.08,361.29 L247.37,360.66 L247.66,360.02 L247.94,359.38 L248.23,358.75 L248.51,358.11 L248.79,357.47 L249.06,356.83 L249.33,356.19 L249.61,355.54 L249.87,354.90 L250.14,354.25 L250.40,353.61 L250.66,352.96 L250.92,352.32 L251.18,351.67 L251.43,351.02 L251.69,350.37 L251.94,349.72 L252.18,349.06 L252.43,348.41 L252.67,347.76 L252.91,347.10 L253.15,346.45 L253.39,345.79 L253.62,345.14 L253.86,344.48 L254.09,343.82 L254.32,343.16 L254.54,342.50 L254.77,341.84 L254.99,341.18 L255.21,340.52 L255.43,339.85 L255.65,339.19 L255.86,338.53 L256.08,337.86 L256.29,337.19 L256.50,336.53 L256.71,335.86 L256.91,335.19 L257.12,334.52 L257.32,333.86 L257.52,333.19 L257.72,332.52 L257.92,331.84 L258.12,331.17 L258.31,330.50 L258.51,329.83 L258.70,329.16 L258.89,328.48 L259.08,327.81 L259.27,327.13 L259.45,326.46 L259.64,325.78 L259.82,325.10 L260.01,324.43 L260.19,323.75 L260.37,323.07 L260.55,322.39 L260.72,321.72 L260.90,321.04 L261.08,320.36 L261.25,319.68 L261.42,319.00 L261.59,318.32 L261.76,317.64 L261.93,316.95 L262.10,316.27 L262.27,315.59 L262.44,314.91 L262.60,314.22 L262.77,313.54 L262.93,312.86 L263.09,312.17 L263.26,311.49 L263.42,310.81 L263.58,310.12 L263.74,309.44 L263.90,308.75 L264.05,308.07 L264.21,307.38 L264.37,306.69 L264.52,306.01 L264.68,305.32 L264.83,304.64 L264.99,303.95 L265.14,303.26 L265.30,302.58 L265.45,301.89 L265.60,301.20 L265.75,300.51 L265.90,299.83 L266.05,299.14 L266.20,298.45 L266.35,297.76 L266.50,297.08 L266.65,296.39 L266.80,295.70 L266.95,295.01 L267.10,294.32 L267.25,293.64 L267.40,292.95 L267.54,292.26 L267.69,291.57 L267.84,290.89 L267.99,290.20 L268.13,289.51 L268.28,288.82 L268.43,288.13 L268.58,287.45 L268.72,286.76 L268.87,286.07 L269.02,285.38 L269.17,284.70 L269.31,284.01 L269.46,283.32 L269.61,282.64 L269.76,281.95 L269.91,281.26 L270.05,280.58 L270.20,279.89 L270.35,279.20 L270.50,278.52 L270.65,277.83 L270.80,277.15 L270.94,276.46 L271.09,275.78 L271.24,275.09 L271.39,274.40 L271.54,273.72 L271.69,273.03 L271.84,272.35 L271.98,271.66 L272.13,270.98 L272.28,270.29 L272.43,269.61 L272.58,268.92 L272.73,268.24 L272.88,267.55 L273.02,266.87 L273.17,266.18 L273.32,265.50 L273.47,264.82 L273.62,264.13 L273.77,263.45 L273.91,262.76 L274.06,262.08 L274.21,261.39 L274.36,260.71 L274.51,260.03 L274.66,259.34 L274.80,258.66 L274.95,257.97 L275.10,257.29 L275.25,256.61 L275.39,255.92 L275.54,255.24 L275.69,254.55 L275.84,253.87 L275.98,253.19 L276.13,252.50 L276.28,251.82 L276.42,251.13 L276.57,250.45 L276.72,249.77 L276.86,249.08 L277.01,248.40 L277.16,247.72 L277.30,247.03 L277.45,246.35 L277.59,245.66 L277.74,244.98 L277.88,244.30 L278.03,243.61 L278.17,242.93 L278.32,242.24 L278.46,241.56 L278.61,240.88 L278.75,240.19 L278.89,239.51 L279.04,238.82 L279.18,238.14 L279.32,237.46 L279.47,236.77 L279.61,236.09 L279.75,235.40 L279.89,234.72 L280.03,234.04 L280.18,233.35 L280.32,232.67 L280.46,231.98 L280.60,231.30 L280.74,230.61 L280.88,229.93 L281.02,229.24 L281.16,228.56 L281.30,227.87 L281.44,227.19 L281.58,226.50 L281.71,225.82 L281.85,225.13 L281.99,224.45 L282.13,223.76 L282.26,223.08 L282.40,222.39 L282.54,221.71 L282.67,221.02 L282.81,220.34 L282.94,219.65 L283.08,218.96 L283.21,218.28 L283.35,217.59 L283.48,216.90 L283.61,216.22 L283.75,215.53 L283.88,214.84 L284.01,214.16 L284.14,213.47 L284.28,212.78 L284.41,212.10 L284.54,211.41 L284.67,210.72 L284.80,210.03 L284.93,209.35 L285.06,208.66 L285.18,207.97 L285.31,207.28 L285.44,206.59 L285.57,205.91 L285.69,205.22 L285.82,204.53 L285.94,203.84 L286.07,203.15 L286.19,202.46 L286.32,201.77 L286.44,201.08 L286.57,200.39 L286.69,199.70 L286.81,199.01 L286.93,198.32 L287.05,197.63 L287.17,196.94 L287.29,196.25 L287.41,195.56 L287.53,194.87 L287.65,194.18 L287.77,193.49 L287.89,192.80 L288.01,192.11 L288.13,191.41 L288.24,190.72 L288.36,190.03 L288.48,189.34 L288.59,188.65 L288.71,187.95 L288.83,187.26 L288.94,186.57 L289.06,185.88 L289.17,185.18 L289.29,184.49 L289.40,183.80 L289.52,183.11 L289.63,182.41 L289.75,181.72 L289.86,181.03 L289.98,180.34 L290.09,179.64 L290.20,178.95 L290.32,178.26 L290.43,177.56 L290.55,176.87 L290.66,176.18 L290.78,175.49 L290.89,174.79 L291.00,174.10 L291.12,173.41 L291.23,172.71 L291.35,172.02 L291.46,171.33 L291.58,170.63 L291.69,169.94 L291.81,169.25 L291.92,168.55 L292.04,167.86 L292.15,167.17 L292.27,166.48 L292.38,165.78 L292.50,165.09 L292.62,164.40 L292.73,163.70 L292.85,163.01 L292.97,162.32 L293.08,161.63 L293.20,160.93 L293.32,160.24 L293.44,159.55 L293.56,158.86 L293.68,158.17 L293.80,157.47 L293.92,156.78 L294.04,156.09 L294.16,155.40 L294.28,154.71 L294.40,154.02 L294.52,153.32 L294.65,152.63 L294.77,151.94 L294.89,151.25 L295.02,150.56 L295.14,149.87 L295.27,149.18 L295.40,148.49 L295.52,147.80 L295.65,147.11 L295.78,146.42 L295.91,145.73 L296.04,145.04 L296.17,144.35 L296.30,143.66 L296.43,142.97 L296.56,142.28 L296.69,141.60 L296.83,140.91 L296.96,140.22 L297.10,139.53 L297.23,138.84 L297.37,138.16 L297.51,137.47 L297.65,136.78 L297.78,136.10 L297.92,135.41 L298.07,134.72 L298.21,134.04 L298.35,133.35 L298.49,132.67 L298.64,131.98 L298.79,131.30 L298.93,130.61 L299.08,129.93 L299.23,129.24 L299.38,128.56 L299.53,127.87 L299.68,127.19 L299.83,126.51 L299.99,125.83 L300.14,125.14 L300.30,124.46 L300.46,123.78 L300.62,123.10 L300.77,122.42 L300.94,121.74 L301.10,121.06 L301.26,120.38 L301.43,119.70 L301.59,119.02 L301.76,118.34 L301.93,117.66 L302.10,116.98 L302.27,116.30 L302.44,115.63 L302.61,114.95 L302.79,114.27 L302.96,113.59 L303.14,112.92 L303.32,112.24 L303.50,111.57 L303.68,110.89 L303.86,110.22 L304.05,109.54 L304.23,108.87 L304.42,108.20 L304.61,107.52 L304.80,106.85 L304.99,106.18 L305.19,105.51 L305.38,104.84 L305.58,104.17 L305.77,103.50 L305.97,102.83 L306.18,102.16 L306.38,101.49 L306.58,100.82 L306.79,100.15 L307.00,99.49 L307.21,98.82 L307.42,98.15 L307.63,97.49 L307.84,96.82 L308.06,96.15 L308.28,95.49 L308.50,94.83 L308.72,94.16 L308.94,93.50 L309.16,92.83 L309.38,92.17 L309.61,91.51 L309.84,90.85 L310.06,90.19 L310.29,89.52 L310.52,88.86 L310.76,88.20 L310.99,87.54 L311.22,86.88 L311.46,86.22 L311.69,85.56 L311.93,84.90 L312.17,84.24 L312.41,83.58 L312.65,82.92 L312.89,82.27 L313.13,81.61 L313.38,80.95 L313.62,80.29 L313.87,79.63 L314.11,78.98 L314.36,78.32 L314.60,77.66 L314.85,77.00 L315.10,76.35 L315.35,75.69 L315.60,75.03 L315.85,74.38 L316.10,73.72 L316.35,73.06 L316.61,72.41 L316.86,71.75 L317.11,71.10 L317.36,70.44 L317.62,69.78 L317.87,69.13 L318.13,68.47 L318.38,67.81 L318.64,67.16 L318.89,66.50 L319.15,65.85 L319.40,65.19 L319.66,64.53 L319.92,63.88 L320.17,63.22 L320.43,62.56 L320.69,61.91 L320.95,61.25 L321.20,60.60 L321.46,59.94 L321.72,59.29 L321.99,58.63 L322.25,57.98 L322.52,57.33 L322.80,56.69 L323.07,56.04 L323.35,55.40 L323.64,54.76 L323.93,54.13 L324.23,53.49 L324.53,52.87 L324.84,52.24 L325.15,51.62 L325.47,51.01 L325.80,50.40 L326.14,49.79 L326.49,49.19 L326.84,48.60 L327.21,48.01 L327.58,47.43 L327.96,46.85 L328.35,46.28 L328.74,45.71 L329.15,45.15 L329.56,44.59 L329.97,44.04 L330.40,43.49 L330.83,42.95 L331.27,42.41 L331.71,41.87 L332.16,41.34 L332.62,40.82 L333.08,40.29 L333.55,39.77 L334.02,39.26 L334.50,38.74 L334.98,38.24 L335.47,37.73 L335.96,37.23 L336.45,36.73 L336.95,36.23 L337.46,35.74 L337.96,35.24 L338.47,34.75 L338.99,34.27 L339.50,33.78 L340.02,33.30 L340.54,32.82 L341.07,32.34 L341.59,31.86 L342.12,31.39 L342.65,30.91 L343.18,30.44 L343.71,29.97 L344.25,29.50 L344.78,29.03 L345.32,28.56 L345.85,28.09 L346.39,27.62 L346.93,27.15 L347.46,26.69 L348.00,26.24 L348.55,25.79 L349.10,25.35 L349.65,24.93 L350.21,24.52 L350.77,24.12 L351.34,23.75 L351.92,23.39 L352.51,23.06 L353.11,22.76 L353.72,22.48 L354.34,22.23 L354.98,22.02 L355.62,21.84 L356.28,21.69 L356.96,21.59 L357.65,21.52 L358.34,21.49 L359.04,21.50 L359.74,21.54 L360.44,21.63 L361.14,21.75 L361.83,21.90 L362.50,22.10 L363.16,22.33 L363.81,22.60 L364.43,22.90 L365.03,23.24 L365.62,23.60 L366.19,24.00 L366.74,24.43 L367.27,24.88 L367.79,25.35 L368.29,25.85 L368.78,26.36 L369.26,26.89 L369.72,27.44 L370.17,28.00 L370.60,28.58 L371.02,29.16 L371.44,29.75 L371.84,30.34 L372.23,30.94 L372.61,31.54 L372.98,32.15 L373.34,32.76 L373.70,33.37 L374.05,33.98 L374.39,34.60 L374.72,35.22 L375.04,35.84 L375.36,36.47 L375.67,37.10 L375.98,37.72 L376.28,38.35 L376.58,38.99 L376.87,39.62 L377.16,40.26 L377.45,40.89 L377.73,41.53 L378.01,42.17 L378.28,42.81 L378.56,43.45 L378.83,44.09 L379.10,44.73 L379.37,45.38 L379.64,46.02 L379.91,46.66 L380.18,47.31 L380.45,47.95 L380.71,48.60 L380.98,49.24 L381.24,49.89 L381.51,50.53 L381.77,51.18 L382.03,51.83 L382.29,52.47 L382.55,53.12 L382.81,53.77 L383.07,54.42 L383.33,55.07 L383.58,55.71 L383.84,56.36 L384.10,57.01 L384.35,57.66 L384.60,58.31 L384.86,58.97 L385.11,59.62 L385.36,60.27 L385.61,60.92 L385.86,61.57 L386.11,62.23 L386.36,62.88 L386.61,63.53 L386.86,64.19 L387.10,64.84 L387.35,65.49 L387.60,66.15 L387.84,66.80 L388.09,67.46 L388.33,68.11 L388.57,68.77 L388.82,69.43 L389.06,70.08 L389.30,70.74 L389.54,71.40 L389.78,72.05 L390.02,72.71 L390.26,73.37 L390.50,74.03 L390.74,74.68 L390.97,75.34 L391.21,76.00 L391.45,76.66 L391.68,77.32 L391.92,77.98 L392.16,78.64 L392.39,79.30 L392.62,79.96 L392.86,80.62 L393.09,81.28 L393.33,81.94 L393.56,82.60 L393.79,83.26 L394.02,83.92 L394.25,84.59 L394.49,85.25 L394.72,85.91 L394.95,86.57 L395.18,87.23 L395.41,87.90 L395.64,88.56 L395.87,89.22 L396.09,89.88 L396.32,90.55 L396.55,91.21 L396.78,91.87 L397.01,92.54 L397.23,93.20 L397.46,93.86 L397.69,94.53 L397.92,95.19 L398.14,95.85 L398.37,96.52 L398.59,97.18 L398.82,97.85 L399.05,98.51 L399.27,99.18 L399.50,99.84 L399.72,100.50 L399.95,101.17 L400.17,101.83 L400.40,102.50 L400.62,103.16 L400.85,103.83 L401.07,104.49 L401.30,105.16 L401.52,105.82 L401.74,106.49 L401.97,107.15 L402.19,107.82 L402.42,108.48 L402.64,109.15 L402.86,109.81 L403.09,110.48 L403.31,111.15 L403.54,111.81 L403.76,112.48 L403.98,113.14 L404.21,113.81 L404.43,114.47 L404.66,115.14 L404.88,115.80 L405.10,116.47 L405.33,117.13 L405.55,117.80 L405.78,118.46 L406.00,119.13 L406.23,119.79 L406.45,120.46 L406.68,121.12 L406.90,121.79 L407.13,122.45 L407.35,123.12 L407.58,123.78 L407.80,124.45 L408.03,125.11 L408.25,125.77 L408.48,126.44 L408.71,127.10 L408.93,127.77 L409.16,128.43 L409.39,129.09 L409.61,129.76 L409.84,130.42 L410.07,131.08 L410.30,131.75 L410.53,132.41 L410.75,133.07 L410.98,133.74 L411.21,134.40 L411.44,135.06 L411.67,135.73 L411.90,136.39 L412.13,137.05 L412.36,137.72 L412.58,138.38 L412.81,139.04 L413.04,139.70 L413.27,140.37 L413.50,141.03 L413.74,141.69 L413.97,142.35 L414.20,143.01 L414.43,143.68 L414.66,144.34 L414.89,145.00 L415.12,145.66 L415.35,146.32 L415.58,146.99 L415.81,147.65 L416.05,148.31 L416.28,148.97 L416.51,149.63 L416.74,150.29 L416.97,150.95 L417.20,151.62 L417.44,152.28 L417.67,152.94 L417.90,153.60 L418.13,154.26 L418.37,154.92 L418.60,155.58 L418.83,156.24 L419.06,156.90 L419.30,157.57 L419.53,158.23 L419.76,158.89 L420.00,159.55 L420.23,160.21 L420.46,160.87 L420.69,161.53 L420.93,162.19 L421.16,162.85 L421.39,163.51 L421.63,164.17 L421.86,164.83 L422.09,165.49 L422.33,166.16 L422.56,166.82 L422.79,167.48 L423.03,168.14 L423.26,168.80 L423.49,169.46 L423.73,170.12 L423.96,170.78 L424.19,171.44 L424.43,172.10 L424.66,172.76 L424.89,173.42 L425.13,174.08 L425.36,174.74 L425.59,175.40 L425.83,176.06 L426.06,176.72 L426.29,177.38 L426.53,178.04 L426.76,178.71 L426.99,179.37 L427.22,180.03 L427.46,180.69 L427.69,181.35 L427.92,182.01 L428.16,182.67 L428.39,183.33 L428.62,183.99 L428.85,184.65 L429.09,185.31 L429.32,185.97 L429.55,186.63 L429.78,187.29 L430.01,187.95 L430.25,188.62 L430.48,189.28 L430.71,189.94 L430.94,190.60 L431.17,191.26 L431.40,191.92 L431.64,192.58 L431.87,193.24 L432.10,193.90 L432.33,194.56 L432.56,195.23 L432.79,195.89 L433.02,196.55 L433.25,197.21 L433.48,197.87 L433.71,198.53 L433.94,199.19 L434.17,199.86 L434.40,200.52 L434.63,201.18 L434.86,201.84 L435.09,202.50 L435.32,203.17 L435.55,203.83 L435.78,204.49 L436.01,205.15 L436.23,205.81 L436.46,206.48 L436.69,207.14 L436.92,207.80 L437.15,208.46 L437.37,209.13 L437.60,209.79 L437.83,210.45 L438.05,211.11 L438.28,211.78 L438.51,212.44 L438.73,213.10 L438.96,213.77 L439.18,214.43 L439.41,215.09 L439.63,215.76 L439.86,216.42 L440.08,217.08 L440.31,217.75 L440.53,218.41 L440.76,219.07 L440.98,219.74 L441.20,220.40 L441.43,221.07 L441.65,221.73 L441.87,222.39 L442.10,223.06 L442.32,223.72 L442.54,224.39 L442.76,225.05 L442.98,225.72 L443.20,226.38 L443.43,227.05 L443.65,227.71 L443.87,228.38 L444.09,229.04 L444.31,229.71 L444.52,230.38 L444.74,231.04 L444.96,231.71 L445.18,232.37 L445.40,233.04 L445.62,233.71 L445.83,234.37 L446.05,235.04 L446.27,235.71 L446.48,236.37 L446.70,237.04 L446.92,237.71 L447.13,238.37 L447.35,239.04 L447.56,239.71 L447.78,240.38 L447.99,241.04 L448.20,241.71 L448.42,242.38 L448.63,243.05 L448.84,243.72 L449.06,244.39 L449.27,245.05 L449.48,245.72 L449.69,246.39 L449.90,247.06 L450.12,247.73 L450.33,248.40 L450.54,249.07 L450.75,249.74 L450.96,250.40 L451.17,251.07 L451.38,251.74 L451.60,252.41 L451.81,253.08 L452.02,253.75 L452.23,254.42 L452.44,255.09 L452.65,255.76 L452.86,256.43 L453.07,257.09 L453.28,257.76 L453.50,258.43 L453.71,259.10 L453.92,259.77 L454.13,260.44 L454.34,261.11 L454.56,261.78 L454.77,262.44 L454.98,263.11 L455.19,263.78 L455.41,264.45 L455.62,265.12 L455.83,265.78 L456.05,266.45 L456.26,267.12 L456.48,267.79 L456.69,268.46 L456.91,269.12 L457.12,269.79 L457.34,270.46 L457.56,271.12 L457.77,271.79 L457.99,272.46 L458.21,273.12 L458.43,273.79 L458.65,274.46 L458.87,275.12 L459.09,275.79 L459.31,276.45 L459.53,277.12 L459.75,277.78 L459.97,278.45 L460.20,279.11 L460.42,279.77 L460.64,280.44 L460.87,281.10 L461.09,281.77 L461.32,282.43 L461.55,283.09 L461.77,283.75 L462.00,284.42 L462.23,285.08 L462.46,285.74 L462.69,286.40 L462.92,287.06 L463.16,287.72 L463.39,288.38 L463.62,289.04 L463.86,289.70 L464.09,290.36 L464.33,291.02 L464.57,291.68 L464.81,292.34 L465.05,292.99 L465.29,293.65 L465.53,294.31 L465.77,294.96 L466.01,295.62 L466.26,296.28 L466.50,296.93 L466.75,297.59 L467.00,298.24 L467.25,298.90 L467.50,299.55 L467.75,300.20 L468.00,300.85 L468.25,301.51 L468.51,302.16 L468.77,302.81 L469.02,303.46 L469.28,304.11 L469.54,304.76 L469.80,305.41 L470.06,306.06 L470.33,306.71 L470.59,307.35 L470.86,308.00 L471.12,308.65 L471.39,309.29 L471.66,309.94 L471.93,310.58 L472.21,311.23 L472.48,311.87 L472.76,312.52 L473.03,313.16 L473.31,313.80 L473.59,314.44 L473.87,315.08 L474.16,315.72 L474.44,316.36 L474.73,317.00 L475.02,317.64 L475.30,318.28 L475.60,318.92 L475.89,319.55 L476.18,320.19 L476.48,320.82 L476.78,321.46 L477.08,322.09 L477.38,322.73 L477.68,323.36 L477.98,323.99 L478.29,324.62 L478.60,325.25 L478.91,325.88 L479.22,326.51 L479.53,327.14 L479.84,327.77 L480.16,328.39 L480.47,329.02 L480.79,329.64 L481.11,330.27 L481.43,330.89 L481.76,331.52 L482.08,332.14 L482.41,332.76 L482.73,333.38 L483.06,334.00 L483.39,334.62 L483.72,335.24 L484.05,335.86 L484.39,336.48 L484.72,337.10 L485.06,337.71 L485.39,338.33 L485.73,338.95 L486.07,339.56 L486.41,340.17 L486.75,340.79 L487.10,341.40 L487.44,342.01 L487.79,342.62 L488.13,343.23 L488.48,343.84 L488.83,344.45 L489.18,345.06 L489.53,345.66 L489.88,346.27 L490.23,346.88 L490.59,347.48 L490.94,348.08 L491.30,348.69 L491.66,349.29 L492.02,349.89 L492.38,350.49 L492.74,351.09 L493.10,351.68 L493.47,352.28 L493.84,352.87 L494.21,353.47 L494.58,354.06 L494.95,354.65 L495.33,355.24 L495.71,355.82 L496.09,356.41 L496.47,356.99 L496.86,357.58 L497.24,358.15 L497.63,358.73 L498.03,359.31 L498.42,359.88 L498.82,360.45 L499.22,361.02 L499.62,361.59 L500.03,362.16 L500.44,362.72 L500.85,363.28 L501.27,363.84 L501.68,364.40 L502.11,364.95 L502.53,365.50 L502.96,366.05 L503.39,366.60 L503.83,367.14 L504.27,367.68 L504.71,368.22 L505.16,368.76 L505.61,369.29 L506.06,369.82 L506.51,370.35 L506.97,370.87 L507.43,371.40 L507.90,371.92 L508.37,372.43 L508.84,372.95 L509.31,373.46 L509.79,373.97 L510.27,374.48 L510.75,374.99 L511.24,375.49 L511.73,376.00 L512.22,376.49 L512.71,376.99 L513.21,377.49 L513.71,377.98 L514.21,378.47 L514.71,378.96 L515.22,379.44 L515.73,379.93 L516.24,380.41 L516.75,380.89 L517.27,381.36 L517.79,381.84 L518.31,382.31 L518.83,382.78 L519.36,383.25 L519.88,383.72 L520.41,384.18 L520.94,384.65 L521.48,385.11 L522.01,385.57 L522.55,386.02 L523.09,386.48 L523.63,386.93 L524.17,387.38 L524.72,387.83 L525.26,388.28 L525.81,388.73 L526.36,389.17 L526.91,389.61 L527.47,390.05 L528.02,390.49 L528.58,390.92 L529.14,391.35 L529.70,391.78 L530.26,392.20 L530.83,392.62 L531.40,393.04 L531.97,393.46 L532.54,393.87 L533.11,394.27 L533.69,394.67 L534.27,395.07 L534.85,395.46 L535.43,395.85 L536.02,396.23 L536.61,396.61 L537.20,396.98 L537.79,397.35 L538.39,397.71 L538.99,398.06 L539.59,398.41 L540.20,398.76 L540.81,399.09 L541.42,399.42 L542.03,399.75 L542.65,400.06 L543.27,400.37 L543.89,400.68 L544.52,400.97 L545.15,401.26 L545.78,401.54 L546.42,401.81 L547.06,402.07 L547.70,402.33 L548.35,402.58 L549.00,402.81 L549.65,403.04 L550.31,403.26 L550.97,403.48 L551.64,403.68 L552.31,403.87 L552.98,404.06 L553.65,404.24 L554.33,404.41 L555.01,404.57 L555.69,404.72 L556.38,404.87 L557.06,405.01 L557.75,405.14 L558.45,405.27 L559.14,405.39 L559.84,405.50 L560.53,405.61 L561.23,405.71 L561.94,405.80 L562.64,405.89 L563.34,405.97 L564.05,406.05 L564.76,406.12 L565.46,406.19 L566.17,406.25 L566.88,406.31 L567.59,406.36 L568.30,406.41 L569.02,406.45 L569.73,406.49 L570.44,406.53 L571.15,406.56 L571.86,406.59 L572.58,406.60 L573.29,406.60 L574.00,406.60 L574.71,406.60 L575.42,406.60 L576.13,406.60 L576.84,406.60 L577.54,406.60 L578.25,406.60 L578.96,406.60 L579.66,406.60 L580.36,406.60 L581.06,406.60 L581.76,406.60 L582.46,406.60 L583.15,406.60 L583.85,406.60 L584.54,406.60 L585.23,406.60 L585.91,406.60 L586.59,406.60 L587.28,406.60 L587.95,406.60 L588.63,406.60 L589.30,406.60 L589.97,406.60" fill="none" stroke="#ff0000" stroke-width="2.4" stroke-linejoin="round" stroke-linecap="butt"/>
<path d="M81.30,2.65 H624.60 V407.10 H81.30 Z" fill="none" stroke="#000" stroke-width="1.3" stroke-linejoin="miter"/>
<path d="M75.90,407.10 H81.30 M75.90,356.23 H81.30 M75.90,305.36 H81.30 M75.90,254.49 H81.30 M75.90,203.62 H81.30 M75.90,152.75 H81.30 M75.90,101.88 H81.30 M75.90,51.01 H81.30 M135.90,407.10 V412.70 M256.48,407.10 V412.70 M377.05,407.10 V412.70 M497.62,407.10 V412.70 M618.20,407.10 V412.70" stroke="#000" stroke-width="1.3" fill="none"/>
<g font-family="DejaVu Sans, sans-serif" font-size="15.30" fill="#111">
<text x="70.60" y="413.20" text-anchor="end">0.000</text>
<text x="70.60" y="362.33" text-anchor="end">0.002</text>
<text x="70.60" y="311.46" text-anchor="end">0.004</text>
<text x="70.60" y="260.59" text-anchor="end">0.006</text>
<text x="70.60" y="209.72" text-anchor="end">0.008</text>
<text x="70.60" y="158.85" text-anchor="end">0.010</text>
<text x="70.60" y="107.98" text-anchor="end">0.012</text>
<text x="70.60" y="57.11" text-anchor="end">0.014</text>
<text x="135.90" y="430.00" text-anchor="middle">0</text>
<text x="256.48" y="430.00" text-anchor="middle">50</text>
<text x="377.05" y="430.00" text-anchor="middle">100</text>
<text x="497.62" y="430.00" text-anchor="middle">150</text>
<text x="618.20" y="430.00" text-anchor="middle">200</text>
</g>
<text x="352.6" y="454.7" text-anchor="middle" font-family="Liberation Sans, Arial, sans-serif" font-weight="bold" font-size="21.40" fill="#000">Angle(°)</text>
<text transform="translate(17.5,206.2) rotate(-90)" x="0" y="0" text-anchor="middle" font-family="Liberation Sans, Arial, sans-serif" font-weight="bold" font-size="21.40" fill="#000">Probability</text>
<rect x="538.05" y="8.65" width="79.55" height="43.85" rx="2.8" ry="2.8" fill="#fff" fill-opacity="0.8" stroke="#d0d0d0" stroke-width="1.1"/>
<path d="M542.1,19.9 H571.3" stroke="#0000ff" stroke-width="2.4"/>
<path d="M542.1,39.7 H571.3" stroke="#ff0000" stroke-width="2.4"/>
<g font-family="DejaVu Sans, sans-serif" font-size="13.30" fill="#111">
<text x="580.8" y="24.85">Wi-A</text>
<text x="580.8" y="44.15">Wi-N</text>
</g>
</svg>
</body></html>
